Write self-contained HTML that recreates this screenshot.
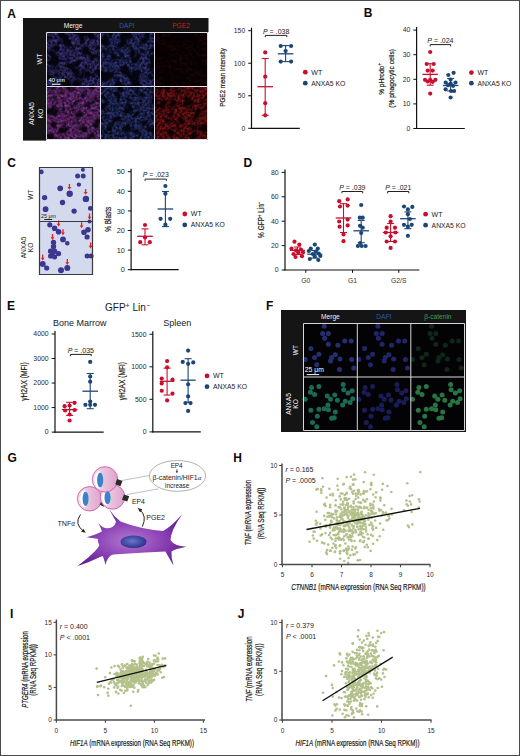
<!DOCTYPE html>
<html><head><meta charset="utf-8"><style>
html,body{margin:0;padding:0;background:#fff;}
body{width:520px;height:756px;overflow:hidden;font-family:"Liberation Sans", sans-serif;}
svg{display:block;}
</style></head><body>
<svg width="520" height="756" viewBox="0 0 520 756" font-family='"Liberation Sans", sans-serif'><defs><filter id="fA1" x="0" y="0" width="100%" height="100%" color-interpolation-filters="sRGB"><feTurbulence type="fractalNoise" baseFrequency="0.1" numOctaves="2" seed="5" result="c"/><feColorMatrix in="c" type="matrix" values="0 0 0 0 0 0 0 0 0 0 0 0 0 0 0 6.000 0 0 0 -2.220" result="m"/><feTurbulence type="fractalNoise" baseFrequency="0.4" numOctaves="2" seed="21" result="f"/><feColorMatrix in="f" type="matrix" values="0.409 0.000 0.000 0.000 -0.068 0.353 0.000 0.000 0.000 -0.059 0.875 0.000 0.000 0.000 -0.146 0 0 0 0 1" result="col"/><feComposite in="col" in2="m" operator="in"/></filter><filter id="fA2" x="0" y="0" width="100%" height="100%" color-interpolation-filters="sRGB"><feTurbulence type="fractalNoise" baseFrequency="0.1" numOctaves="2" seed="5" result="c"/><feColorMatrix in="c" type="matrix" values="0 0 0 0 0 0 0 0 0 0 0 0 0 0 0 6.000 0 0 0 -2.220" result="m"/><feTurbulence type="fractalNoise" baseFrequency="0.4" numOctaves="2" seed="21" result="f"/><feColorMatrix in="f" type="matrix" values="0.325 0.000 0.000 0.000 -0.054 0.367 0.000 0.000 0.000 -0.061 0.875 0.000 0.000 0.000 -0.146 0 0 0 0 1" result="col"/><feComposite in="col" in2="m" operator="in"/></filter><filter id="fA3" x="0" y="0" width="100%" height="100%" color-interpolation-filters="sRGB"><feTurbulence type="fractalNoise" baseFrequency="0.07" numOctaves="3" seed="9" result="c"/><feColorMatrix in="c" type="matrix" values="0 0 0 0 0 0 0 0 0 0 0 0 0 0 0 4.000 0 0 0 -1.200" result="m"/><feTurbulence type="fractalNoise" baseFrequency="0.35" numOctaves="2" seed="23" result="f"/><feColorMatrix in="f" type="matrix" values="0.242 0.000 0.000 0.000 -0.069 0.033 0.000 0.000 0.000 -0.009 0.055 0.000 0.000 0.000 -0.016 0 0 0 0 1" result="col"/><feComposite in="col" in2="m" operator="in"/></filter><filter id="fA4" x="0" y="0" width="100%" height="100%" color-interpolation-filters="sRGB"><feTurbulence type="fractalNoise" baseFrequency="0.12" numOctaves="2" seed="7" result="c"/><feColorMatrix in="c" type="matrix" values="0 0 0 0 0 0 0 0 0 0 0 0 0 0 0 5.000 0 0 0 -1.500" result="m"/><feTurbulence type="fractalNoise" baseFrequency="0.4" numOctaves="2" seed="24" result="f"/><feColorMatrix in="f" type="matrix" values="0.649 0.254 0.000 0.000 -0.151 0.099 0.268 0.000 0.000 -0.061 0.240 0.776 0.000 0.000 -0.169 0 0 0 0 1" result="col"/><feComposite in="col" in2="m" operator="in"/></filter><filter id="fA5" x="0" y="0" width="100%" height="100%" color-interpolation-filters="sRGB"><feTurbulence type="fractalNoise" baseFrequency="0.12" numOctaves="2" seed="7" result="c"/><feColorMatrix in="c" type="matrix" values="0 0 0 0 0 0 0 0 0 0 0 0 0 0 0 5.000 0 0 0 -1.500" result="m"/><feTurbulence type="fractalNoise" baseFrequency="0.4" numOctaves="2" seed="24" result="f"/><feColorMatrix in="f" type="matrix" values="0.296 0.000 0.000 0.000 -0.049 0.367 0.000 0.000 0.000 -0.061 0.819 0.000 0.000 0.000 -0.136 0 0 0 0 1" result="col"/><feComposite in="col" in2="m" operator="in"/></filter><filter id="fA6" x="0" y="0" width="100%" height="100%" color-interpolation-filters="sRGB"><feTurbulence type="fractalNoise" baseFrequency="0.12" numOctaves="2" seed="7" result="c"/><feColorMatrix in="c" type="matrix" values="0 0 0 0 0 0 0 0 0 0 0 0 0 0 0 5.000 0 0 0 -1.500" result="m"/><feTurbulence type="fractalNoise" baseFrequency="0.4" numOctaves="2" seed="26" result="f"/><feColorMatrix in="f" type="matrix" values="0.833 0.000 0.000 0.000 -0.139 0.127 0.000 0.000 0.000 -0.021 0.155 0.000 0.000 0.000 -0.026 0 0 0 0 1" result="col"/><feComposite in="col" in2="m" operator="in"/></filter><filter id="glow" x="-50%" y="-50%" width="200%" height="200%"><feGaussianBlur stdDeviation="0.55"/></filter><radialGradient id="gPurp" cx="0.48" cy="0.55" r="0.6"><stop offset="0" stop-color="#b27ad0"/><stop offset="0.45" stop-color="#9148b8"/><stop offset="1" stop-color="#5e1890"/></radialGradient><radialGradient id="gNuc" cx="0.45" cy="0.45" r="0.6"><stop offset="0" stop-color="#6878c8"/><stop offset="1" stop-color="#2a2a8c"/></radialGradient><linearGradient id="gPink" x1="0" y1="0" x2="1" y2="0"><stop offset="0" stop-color="#f6e6f1"/><stop offset="0.35" stop-color="#edc8e1"/><stop offset="1" stop-color="#dba4cb"/></linearGradient><marker id="ah" viewBox="0 0 6 6" refX="3" refY="3" markerWidth="4.5" markerHeight="4.5" orient="auto"><path d="M0,0.5 L6,3 L0,5.5 z" fill="#222"/></marker></defs><rect x="0.5" y="0.5" width="519" height="755" fill="none" stroke="#4a4a4a" stroke-width="1"/>
<text x="7.30" y="17.60" font-size="12" text-anchor="start" fill="#0a0a0a" font-weight="bold" >A</text>
<rect x="23" y="18" width="185.5" height="14" fill="#151515"/>
<rect x="23" y="18" width="23" height="122.6" fill="#151515"/>
<text x="73.00" y="27.60" font-size="6.6" text-anchor="middle" fill="#f2f2f2" >Merge</text>
<text x="127.00" y="27.60" font-size="6.6" text-anchor="middle" fill="#2a5aa8" >DAPI</text>
<text x="181.00" y="27.60" font-size="6.6" text-anchor="middle" fill="#d41a1e" >PGE2</text>
<rect x="46" y="32" width="54" height="54" fill="#05050f"/>
<rect x="46" y="32" width="54" height="54" filter="url(#fA1)"/>
<rect x="100" y="32" width="54" height="54" fill="#05050f"/>
<rect x="100" y="32" width="54" height="54" filter="url(#fA2)"/>
<rect x="154" y="32" width="54" height="54" fill="#060203"/>
<rect x="154" y="32" width="54" height="54" filter="url(#fA3)"/>
<rect x="46" y="86" width="54" height="54" fill="#0c0612"/>
<rect x="46" y="86" width="54" height="54" filter="url(#fA4)"/>
<rect x="100" y="86" width="54" height="54" fill="#05050f"/>
<rect x="100" y="86" width="54" height="54" filter="url(#fA5)"/>
<rect x="154" y="86" width="54" height="54" fill="#0c0304"/>
<rect x="154" y="86" width="54" height="54" filter="url(#fA6)"/>
<path d="M46.5,32.5 H207.5 V139.5 H46.5 Z M100.5,32.5 V139.5 M154.5,32.5 V139.5 M46.5,86.5 H207.5" fill="none" stroke="#dcdce4" stroke-width="1"/>
<text x="48.50" y="81.80" font-size="6.2" text-anchor="start" fill="#fff" textLength="16.3" lengthAdjust="spacingAndGlyphs" >40 μm</text>
<line x1="52.00" y1="84.20" x2="60.50" y2="84.20" stroke="#fff" stroke-width="1.1" />
<text x="41.50" y="59.00" font-size="7.0" text-anchor="middle" fill="#f2f2f2" transform="rotate(-90 41.50 59.00)" >WT</text>
<text x="33.60" y="113.50" font-size="7.0" text-anchor="middle" fill="#f2f2f2" transform="rotate(-90 33.60 113.50)" >ANXA5</text>
<text x="42.60" y="113.50" font-size="7.0" text-anchor="middle" fill="#f2f2f2" transform="rotate(-90 42.60 113.50)" >KO</text>
<line x1="251.50" y1="27.70" x2="251.50" y2="128.90" stroke="#111" stroke-width="1.2" />
<line x1="250.90" y1="128.30" x2="299.80" y2="128.30" stroke="#111" stroke-width="1.2" />
<line x1="248.20" y1="30.70" x2="251.50" y2="30.70" stroke="#111" stroke-width="1.0" />
<text x="245.20" y="33.20" font-size="6.8" text-anchor="end" fill="#2a2a2a" >150</text>
<line x1="248.20" y1="63.23" x2="251.50" y2="63.23" stroke="#111" stroke-width="1.0" />
<text x="245.20" y="65.73" font-size="6.8" text-anchor="end" fill="#2a2a2a" >100</text>
<line x1="248.20" y1="95.77" x2="251.50" y2="95.77" stroke="#111" stroke-width="1.0" />
<text x="245.20" y="98.27" font-size="6.8" text-anchor="end" fill="#2a2a2a" >50</text>
<line x1="248.20" y1="128.30" x2="251.50" y2="128.30" stroke="#111" stroke-width="1.0" />
<text x="245.20" y="130.80" font-size="6.8" text-anchor="end" fill="#2a2a2a" >0</text>
<text x="225.50" y="77.40" font-size="7.3" text-anchor="middle" fill="#1a1a1a" textLength="58.6" lengthAdjust="spacingAndGlyphs" transform="rotate(-90 225.50 77.40)" stroke="#1a1a1a" stroke-width="0.2">PGE2 mean intensity</text>
<line x1="265.20" y1="58.50" x2="265.20" y2="115.30" stroke="#c8102e" stroke-width="1.1" />
<line x1="261.70" y1="58.50" x2="268.70" y2="58.50" stroke="#c8102e" stroke-width="1.1" />
<line x1="261.70" y1="115.30" x2="268.70" y2="115.30" stroke="#c8102e" stroke-width="1.1" />
<circle cx="265.20" cy="52.40" r="2.1" fill="#c8102e" />
<circle cx="265.20" cy="76.70" r="2.1" fill="#c8102e" />
<circle cx="265.20" cy="103.20" r="2.1" fill="#c8102e" />
<circle cx="265.20" cy="115.30" r="2.1" fill="#c8102e" />
<line x1="257.40" y1="86.70" x2="273.00" y2="86.70" stroke="#c8102e" stroke-width="1.3" />
<line x1="285.60" y1="45.60" x2="285.60" y2="61.60" stroke="#1b4676" stroke-width="1.1" />
<line x1="282.10" y1="45.60" x2="289.10" y2="45.60" stroke="#1b4676" stroke-width="1.1" />
<line x1="282.10" y1="61.60" x2="289.10" y2="61.60" stroke="#1b4676" stroke-width="1.1" />
<circle cx="280.70" cy="46.00" r="2.1" fill="#1b4676" />
<circle cx="291.10" cy="46.00" r="2.1" fill="#1b4676" />
<circle cx="285.60" cy="51.00" r="2.1" fill="#1b4676" />
<circle cx="280.70" cy="61.60" r="2.1" fill="#1b4676" />
<circle cx="291.10" cy="61.60" r="2.1" fill="#1b4676" />
<line x1="277.80" y1="53.80" x2="293.40" y2="53.80" stroke="#1b4676" stroke-width="1.3" />
<path d="M265.30,37.20 V35.40 H286.80 V37.20" fill="none" stroke="#222" stroke-width="1"/>
<text x="276.20" y="33.80" font-size="6.5" text-anchor="middle" fill="#1a1a1a" textLength="26.5" lengthAdjust="spacingAndGlyphs"><tspan font-style="italic">P</tspan> = .038</text>
<circle cx="305.30" cy="72.20" r="2.4" fill="#c8102e" />
<text x="311.30" y="74.50" font-size="7.0" text-anchor="start" fill="#1a1a1a" >WT</text>
<circle cx="305.30" cy="83.20" r="2.4" fill="#1b4676" />
<text x="311.30" y="85.50" font-size="7.0" text-anchor="start" fill="#1a1a1a" textLength="34" lengthAdjust="spacingAndGlyphs" >ANXA5 KO</text>
<text x="363.80" y="16.90" font-size="12" text-anchor="start" fill="#0a0a0a" font-weight="bold" >B</text>
<line x1="416.60" y1="27.10" x2="416.60" y2="129.10" stroke="#111" stroke-width="1.2" />
<line x1="416.00" y1="128.50" x2="464.80" y2="128.50" stroke="#111" stroke-width="1.2" />
<line x1="413.30" y1="30.10" x2="416.60" y2="30.10" stroke="#111" stroke-width="1.0" />
<text x="410.30" y="32.40" font-size="6.9" text-anchor="end" fill="#2a2a2a" >40</text>
<line x1="413.30" y1="54.70" x2="416.60" y2="54.70" stroke="#111" stroke-width="1.0" />
<text x="410.30" y="57.00" font-size="6.9" text-anchor="end" fill="#2a2a2a" >30</text>
<line x1="413.30" y1="79.30" x2="416.60" y2="79.30" stroke="#111" stroke-width="1.0" />
<text x="410.30" y="81.60" font-size="6.9" text-anchor="end" fill="#2a2a2a" >20</text>
<line x1="413.30" y1="103.90" x2="416.60" y2="103.90" stroke="#111" stroke-width="1.0" />
<text x="410.30" y="106.20" font-size="6.9" text-anchor="end" fill="#2a2a2a" >10</text>
<line x1="413.30" y1="128.50" x2="416.60" y2="128.50" stroke="#111" stroke-width="1.0" />
<text x="410.30" y="130.80" font-size="6.9" text-anchor="end" fill="#2a2a2a" >0</text>
<text x="384" y="78.9" font-size="7.3" text-anchor="middle" fill="#1a1a1a" transform="rotate(-90 384 78.9)" stroke="#1a1a1a" stroke-width="0.2"><tspan textLength="29" lengthAdjust="spacingAndGlyphs">% pHrodo</tspan><tspan dy="-2.8" font-size="4.8">+</tspan></text>
<text x="393.70" y="78.30" font-size="7.3" text-anchor="middle" fill="#1a1a1a" textLength="58.7" lengthAdjust="spacingAndGlyphs" transform="rotate(-90 393.70 78.30)" stroke="#1a1a1a" stroke-width="0.2">(% phagocytic cells)</text>
<line x1="430.20" y1="63.70" x2="430.20" y2="85.20" stroke="#c8102e" stroke-width="1.1" />
<line x1="426.70" y1="63.70" x2="433.70" y2="63.70" stroke="#c8102e" stroke-width="1.1" />
<line x1="426.70" y1="85.20" x2="433.70" y2="85.20" stroke="#c8102e" stroke-width="1.1" />
<circle cx="430.20" cy="52.00" r="2.1" fill="#c8102e" />
<circle cx="426.70" cy="64.00" r="2.1" fill="#c8102e" />
<circle cx="433.70" cy="64.00" r="2.1" fill="#c8102e" />
<circle cx="427.70" cy="70.60" r="2.1" fill="#c8102e" />
<circle cx="432.70" cy="70.60" r="2.1" fill="#c8102e" />
<circle cx="425.00" cy="79.80" r="2.1" fill="#c8102e" />
<circle cx="430.20" cy="79.80" r="2.1" fill="#c8102e" />
<circle cx="435.40" cy="79.80" r="2.1" fill="#c8102e" />
<circle cx="427.70" cy="81.50" r="2.1" fill="#c8102e" />
<circle cx="432.70" cy="81.80" r="2.1" fill="#c8102e" />
<circle cx="430.20" cy="93.60" r="2.1" fill="#c8102e" />
<line x1="422.40" y1="74.40" x2="438.00" y2="74.40" stroke="#c8102e" stroke-width="1.3" />
<line x1="450.60" y1="78.50" x2="450.60" y2="91.00" stroke="#1b4676" stroke-width="1.1" />
<line x1="447.10" y1="78.50" x2="454.10" y2="78.50" stroke="#1b4676" stroke-width="1.1" />
<line x1="447.10" y1="91.00" x2="454.10" y2="91.00" stroke="#1b4676" stroke-width="1.1" />
<circle cx="453.60" cy="72.80" r="2.1" fill="#1b4676" />
<circle cx="448.30" cy="75.00" r="2.1" fill="#1b4676" />
<circle cx="450.60" cy="79.50" r="2.1" fill="#1b4676" />
<circle cx="445.70" cy="82.50" r="2.1" fill="#1b4676" />
<circle cx="450.60" cy="83.50" r="2.1" fill="#1b4676" />
<circle cx="455.50" cy="82.50" r="2.1" fill="#1b4676" />
<circle cx="448.10" cy="85.20" r="2.1" fill="#1b4676" />
<circle cx="453.10" cy="85.80" r="2.1" fill="#1b4676" />
<circle cx="445.60" cy="89.30" r="2.1" fill="#1b4676" />
<circle cx="451.10" cy="91.00" r="2.1" fill="#1b4676" />
<circle cx="454.10" cy="91.00" r="2.1" fill="#1b4676" />
<circle cx="450.60" cy="97.50" r="2.1" fill="#1b4676" />
<line x1="442.80" y1="85.50" x2="458.40" y2="85.50" stroke="#1b4676" stroke-width="1.3" />
<path d="M430.20,46.40 V44.60 H450.60 V46.40" fill="none" stroke="#222" stroke-width="1"/>
<text x="440.40" y="42.70" font-size="6.5" text-anchor="middle" fill="#1a1a1a" textLength="26.2" lengthAdjust="spacingAndGlyphs"><tspan font-style="italic">P</tspan> = .024</text>
<circle cx="471.40" cy="72.60" r="2.4" fill="#c8102e" />
<text x="477.40" y="74.90" font-size="7.0" text-anchor="start" fill="#1a1a1a" >WT</text>
<circle cx="471.40" cy="83.20" r="2.4" fill="#1b4676" />
<text x="477.40" y="85.50" font-size="7.0" text-anchor="start" fill="#1a1a1a" textLength="34" lengthAdjust="spacingAndGlyphs" >ANXA5 KO</text>
<text x="7.20" y="166.70" font-size="12" text-anchor="start" fill="#0a0a0a" font-weight="bold" >C</text>
<rect x="39" y="167" width="54" height="108" fill="#d3daee"/>
<path d="M39.10,171.90a2.3,2.3 0 1,0 4.60,0a2.3,2.3 0 1,0 -4.60,0zM75.10,175.90a2.5,2.5 0 1,0 5.00,0a2.5,2.5 0 1,0 -5.00,0zM80.70,175.90a2.5,2.5 0 1,0 5.00,0a2.5,2.5 0 1,0 -5.00,0zM80.90,169.80a2.0,2.0 0 1,0 4.00,0a2.0,2.0 0 1,0 -4.00,0zM76.70,184.60a2.2,2.2 0 1,0 4.40,0a2.2,2.2 0 1,0 -4.40,0zM57.30,188.30a2.9,2.9 0 1,0 5.80,0a2.9,2.9 0 1,0 -5.80,0zM66.50,193.70a3.2,3.2 0 1,0 6.40,0a3.2,3.2 0 1,0 -6.40,0zM82.70,198.90a3.2,3.2 0 1,0 6.40,0a3.2,3.2 0 1,0 -6.40,0zM41.90,197.60a2.7,2.7 0 1,0 5.40,0a2.7,2.7 0 1,0 -5.40,0zM59.80,202.50a2.7,2.7 0 1,0 5.40,0a2.7,2.7 0 1,0 -5.40,0zM42.70,209.20a2.9,2.9 0 1,0 5.80,0a2.9,2.9 0 1,0 -5.80,0zM71.40,211.10a2.7,2.7 0 1,0 5.40,0a2.7,2.7 0 1,0 -5.40,0zM87.90,208.40a2.4,2.4 0 1,0 4.80,0a2.4,2.4 0 1,0 -4.80,0zM47.20,224.80a2.6,2.6 0 1,0 5.20,0a2.6,2.6 0 1,0 -5.20,0zM51.80,228.30a2.8,2.8 0 1,0 5.60,0a2.8,2.8 0 1,0 -5.60,0zM55.80,231.70a2.8,2.8 0 1,0 5.60,0a2.8,2.8 0 1,0 -5.60,0zM60.10,239.40a2.9,2.9 0 1,0 5.80,0a2.9,2.9 0 1,0 -5.80,0zM65.00,243.30a2.3,2.3 0 1,0 4.60,0a2.3,2.3 0 1,0 -4.60,0zM50.80,242.50a2.7,2.7 0 1,0 5.40,0a2.7,2.7 0 1,0 -5.40,0zM50.80,246.50a2.7,2.7 0 1,0 5.40,0a2.7,2.7 0 1,0 -5.40,0zM47.90,251.30a2.7,2.7 0 1,0 5.40,0a2.7,2.7 0 1,0 -5.40,0zM51.90,251.30a2.7,2.7 0 1,0 5.40,0a2.7,2.7 0 1,0 -5.40,0zM50.60,253.80a2.0,2.0 0 1,0 4.00,0a2.0,2.0 0 1,0 -4.00,0zM56.00,253.70a2.6,2.6 0 1,0 5.20,0a2.6,2.6 0 1,0 -5.20,0zM48.00,256.00a2.6,2.6 0 1,0 5.20,0a2.6,2.6 0 1,0 -5.20,0zM52.00,256.80a2.6,2.6 0 1,0 5.20,0a2.6,2.6 0 1,0 -5.20,0zM39.70,264.00a3.0,3.0 0 1,0 6.00,0a3.0,3.0 0 1,0 -6.00,0zM44.10,268.00a2.6,2.6 0 1,0 5.20,0a2.6,2.6 0 1,0 -5.20,0zM58.00,270.30a3.0,3.0 0 1,0 6.00,0a3.0,3.0 0 1,0 -6.00,0zM64.30,268.00a3.0,3.0 0 1,0 6.00,0a3.0,3.0 0 1,0 -6.00,0zM81.20,232.20a2.8,2.8 0 1,0 5.60,0a2.8,2.8 0 1,0 -5.60,0zM85.20,229.80a2.8,2.8 0 1,0 5.60,0a2.8,2.8 0 1,0 -5.60,0zM84.50,237.00a2.6,2.6 0 1,0 5.20,0a2.6,2.6 0 1,0 -5.20,0zM84.60,256.00a2.5,2.5 0 1,0 5.00,0a2.5,2.5 0 1,0 -5.00,0zM88.60,256.00a2.5,2.5 0 1,0 5.00,0a2.5,2.5 0 1,0 -5.00,0zM87.50,221.50a2.0,2.0 0 1,0 4.00,0a2.0,2.0 0 1,0 -4.00,0z" fill="#3c3890"/>
<path d="M69.4,189.8 l-1.9,-2.7 h1.25 v-3.2 h1.3 v3.2 h1.25 z" fill="#e41e2c"/>
<path d="M85.6,194.8 l-1.9,-2.7 h1.25 v-3.2 h1.3 v3.2 h1.25 z" fill="#e41e2c"/>
<path d="M58.6,226.5 l-1.9,-2.7 h1.25 v-3.2 h1.3 v3.2 h1.25 z" fill="#e41e2c"/>
<path d="M81.6,228.2 l-1.9,-2.7 h1.25 v-3.2 h1.3 v3.2 h1.25 z" fill="#e41e2c"/>
<path d="M63,235.2 l-1.9,-2.7 h1.25 v-3.2 h1.3 v3.2 h1.25 z" fill="#e41e2c"/>
<path d="M52.5,240 l-1.9,-2.7 h1.25 v-3.2 h1.3 v3.2 h1.25 z" fill="#e41e2c"/>
<path d="M42.7,260.5 l-1.9,-2.7 h1.25 v-3.2 h1.3 v3.2 h1.25 z" fill="#e41e2c"/>
<path d="M67.3,265 l-1.9,-2.7 h1.25 v-3.2 h1.3 v3.2 h1.25 z" fill="#e41e2c"/>
<path d="M90.6,248.5 l-1.9,-2.7 h1.25 v-3.2 h1.3 v3.2 h1.25 z" fill="#e41e2c"/>
<path d="M89.5,219.5 l-1.9,-2.7 h1.25 v-3.2 h1.3 v3.2 h1.25 z" fill="#e41e2c"/>
<path d="M39.5,167.5 H92.5 V274.5 H39.5 Z M39.5,221.5 H92.5" fill="none" stroke="#3a3a3a" stroke-width="1.2"/>
<text x="41.00" y="218.00" font-size="5.4" text-anchor="start" fill="#222" >25 μm</text>
<line x1="44.30" y1="219.50" x2="52.20" y2="219.50" stroke="#222" stroke-width="1" />
<text x="33.30" y="194.50" font-size="6.6" text-anchor="middle" fill="#1a1a1a" transform="rotate(-90 33.30 194.50)" >WT</text>
<text x="25.80" y="247.50" font-size="6.6" text-anchor="middle" fill="#1a1a1a" transform="rotate(-90 25.80 247.50)" >ANXA5</text>
<text x="33.30" y="247.50" font-size="6.6" text-anchor="middle" fill="#1a1a1a" transform="rotate(-90 33.30 247.50)" >KO</text>
<line x1="131.10" y1="168.70" x2="131.10" y2="270.30" stroke="#111" stroke-width="1.2" />
<line x1="130.50" y1="269.70" x2="178.70" y2="269.70" stroke="#111" stroke-width="1.2" />
<line x1="127.80" y1="171.70" x2="131.10" y2="171.70" stroke="#111" stroke-width="1.0" />
<text x="124.80" y="174.40" font-size="7.3" text-anchor="end" fill="#2a2a2a" >50</text>
<line x1="127.80" y1="191.30" x2="131.10" y2="191.30" stroke="#111" stroke-width="1.0" />
<text x="124.80" y="194.00" font-size="7.3" text-anchor="end" fill="#2a2a2a" >40</text>
<line x1="127.80" y1="210.90" x2="131.10" y2="210.90" stroke="#111" stroke-width="1.0" />
<text x="124.80" y="213.60" font-size="7.3" text-anchor="end" fill="#2a2a2a" >30</text>
<line x1="127.80" y1="230.50" x2="131.10" y2="230.50" stroke="#111" stroke-width="1.0" />
<text x="124.80" y="233.20" font-size="7.3" text-anchor="end" fill="#2a2a2a" >20</text>
<line x1="127.80" y1="250.10" x2="131.10" y2="250.10" stroke="#111" stroke-width="1.0" />
<text x="124.80" y="252.80" font-size="7.3" text-anchor="end" fill="#2a2a2a" >10</text>
<line x1="127.80" y1="269.70" x2="131.10" y2="269.70" stroke="#111" stroke-width="1.0" />
<text x="124.80" y="272.40" font-size="7.3" text-anchor="end" fill="#2a2a2a" >0</text>
<text x="110.60" y="219.30" font-size="8.6" text-anchor="middle" fill="#1a1a1a" textLength="24.9" lengthAdjust="spacingAndGlyphs" transform="rotate(-90 110.60 219.30)" stroke="#1a1a1a" stroke-width="0.2">% Blasts</text>
<line x1="145.00" y1="228.90" x2="145.00" y2="244.80" stroke="#c8102e" stroke-width="1.1" />
<line x1="141.50" y1="228.90" x2="148.50" y2="228.90" stroke="#c8102e" stroke-width="1.1" />
<line x1="141.50" y1="244.80" x2="148.50" y2="244.80" stroke="#c8102e" stroke-width="1.1" />
<circle cx="145.00" cy="225.00" r="2.1" fill="#c8102e" />
<circle cx="145.00" cy="237.50" r="2.1" fill="#c8102e" />
<circle cx="140.20" cy="242.20" r="2.1" fill="#c8102e" />
<circle cx="149.80" cy="242.20" r="2.1" fill="#c8102e" />
<line x1="137.20" y1="236.30" x2="152.80" y2="236.30" stroke="#c8102e" stroke-width="1.3" />
<line x1="165.40" y1="191.50" x2="165.40" y2="226.60" stroke="#1b4676" stroke-width="1.1" />
<line x1="161.90" y1="191.50" x2="168.90" y2="191.50" stroke="#1b4676" stroke-width="1.1" />
<line x1="161.90" y1="226.60" x2="168.90" y2="226.60" stroke="#1b4676" stroke-width="1.1" />
<circle cx="165.40" cy="186.00" r="2.1" fill="#1b4676" />
<circle cx="165.40" cy="193.70" r="2.1" fill="#1b4676" />
<circle cx="160.60" cy="218.80" r="2.1" fill="#1b4676" />
<circle cx="170.20" cy="218.80" r="2.1" fill="#1b4676" />
<circle cx="165.40" cy="224.70" r="2.1" fill="#1b4676" />
<line x1="157.60" y1="209.00" x2="173.20" y2="209.00" stroke="#1b4676" stroke-width="1.3" />
<path d="M145.10,180.90 V179.10 H166.40 V180.90" fill="none" stroke="#222" stroke-width="1"/>
<text x="155.80" y="177.10" font-size="6.5" text-anchor="middle" fill="#1a1a1a" textLength="26" lengthAdjust="spacingAndGlyphs"><tspan font-style="italic">P</tspan> = .023</text>
<circle cx="184.80" cy="214.00" r="2.4" fill="#c8102e" />
<text x="190.80" y="216.30" font-size="7.0" text-anchor="start" fill="#1a1a1a" >WT</text>
<circle cx="184.80" cy="224.90" r="2.4" fill="#1b4676" />
<text x="190.80" y="227.20" font-size="7.0" text-anchor="start" fill="#1a1a1a" textLength="34" lengthAdjust="spacingAndGlyphs" >ANXA5 KO</text>
<text x="243.60" y="166.70" font-size="12" text-anchor="start" fill="#0a0a0a" font-weight="bold" >D</text>
<line x1="285.00" y1="169.40" x2="285.00" y2="270.60" stroke="#111" stroke-width="1.2" />
<line x1="284.40" y1="270.00" x2="419.40" y2="270.00" stroke="#111" stroke-width="1.2" />
<line x1="281.70" y1="172.40" x2="285.00" y2="172.40" stroke="#111" stroke-width="1.0" />
<text x="278.70" y="174.70" font-size="6.9" text-anchor="end" fill="#2a2a2a" >80</text>
<line x1="281.70" y1="196.80" x2="285.00" y2="196.80" stroke="#111" stroke-width="1.0" />
<text x="278.70" y="199.10" font-size="6.9" text-anchor="end" fill="#2a2a2a" >60</text>
<line x1="281.70" y1="221.20" x2="285.00" y2="221.20" stroke="#111" stroke-width="1.0" />
<text x="278.70" y="223.50" font-size="6.9" text-anchor="end" fill="#2a2a2a" >40</text>
<line x1="281.70" y1="245.60" x2="285.00" y2="245.60" stroke="#111" stroke-width="1.0" />
<text x="278.70" y="247.90" font-size="6.9" text-anchor="end" fill="#2a2a2a" >20</text>
<line x1="281.70" y1="270.00" x2="285.00" y2="270.00" stroke="#111" stroke-width="1.0" />
<text x="278.70" y="272.30" font-size="6.9" text-anchor="end" fill="#2a2a2a" >0</text>
<line x1="305.80" y1="270.00" x2="305.80" y2="272.80" stroke="#111" stroke-width="1" />
<text x="305.80" y="283.20" font-size="6.8" text-anchor="middle" fill="#333" >G0</text>
<line x1="352.50" y1="270.00" x2="352.50" y2="272.80" stroke="#111" stroke-width="1" />
<text x="352.50" y="283.20" font-size="6.8" text-anchor="middle" fill="#333" >G1</text>
<line x1="398.80" y1="270.00" x2="398.80" y2="272.80" stroke="#111" stroke-width="1" />
<text x="398.80" y="283.20" font-size="6.8" text-anchor="middle" fill="#333" >G2/S</text>
<text x="264.5" y="219.9" font-size="8.5" text-anchor="middle" fill="#1a1a1a" transform="rotate(-90 264.5 219.9)" stroke="#1a1a1a" stroke-width="0.2" textLength="36" lengthAdjust="spacingAndGlyphs">% GFP<tspan dy="-3" font-size="5.2">+</tspan><tspan dy="3"> Lin</tspan><tspan dy="-3" font-size="5.2">−</tspan></text>
<line x1="297.50" y1="247.00" x2="297.50" y2="254.50" stroke="#c8102e" stroke-width="1.1" />
<line x1="294.00" y1="247.00" x2="301.00" y2="247.00" stroke="#c8102e" stroke-width="1.1" />
<line x1="294.00" y1="254.50" x2="301.00" y2="254.50" stroke="#c8102e" stroke-width="1.1" />
<circle cx="294.50" cy="241.70" r="2.1" fill="#c8102e" />
<circle cx="299.30" cy="244.60" r="2.1" fill="#c8102e" />
<circle cx="291.50" cy="248.50" r="2.1" fill="#c8102e" />
<circle cx="296.00" cy="250.40" r="2.1" fill="#c8102e" />
<circle cx="301.00" cy="249.50" r="2.1" fill="#c8102e" />
<circle cx="293.50" cy="254.00" r="2.1" fill="#c8102e" />
<circle cx="298.50" cy="253.00" r="2.1" fill="#c8102e" />
<circle cx="302.00" cy="256.20" r="2.1" fill="#c8102e" />
<circle cx="295.50" cy="257.00" r="2.1" fill="#c8102e" />
<circle cx="298.00" cy="251.50" r="2.1" fill="#c8102e" />
<circle cx="303.00" cy="252.50" r="2.1" fill="#c8102e" />
<line x1="290.00" y1="250.40" x2="305.00" y2="250.40" stroke="#c8102e" stroke-width="1.3" />
<line x1="314.80" y1="250.50" x2="314.80" y2="258.00" stroke="#1b4676" stroke-width="1.1" />
<line x1="311.30" y1="250.50" x2="318.30" y2="250.50" stroke="#1b4676" stroke-width="1.1" />
<line x1="311.30" y1="258.00" x2="318.30" y2="258.00" stroke="#1b4676" stroke-width="1.1" />
<circle cx="314.80" cy="244.60" r="2.1" fill="#1b4676" />
<circle cx="310.80" cy="248.50" r="2.1" fill="#1b4676" />
<circle cx="317.80" cy="248.50" r="2.1" fill="#1b4676" />
<circle cx="308.80" cy="251.00" r="2.1" fill="#1b4676" />
<circle cx="315.80" cy="251.50" r="2.1" fill="#1b4676" />
<circle cx="312.80" cy="254.00" r="2.1" fill="#1b4676" />
<circle cx="318.80" cy="253.50" r="2.1" fill="#1b4676" />
<circle cx="309.80" cy="259.00" r="2.1" fill="#1b4676" />
<circle cx="318.30" cy="260.00" r="2.1" fill="#1b4676" />
<circle cx="314.80" cy="256.50" r="2.1" fill="#1b4676" />
<circle cx="320.30" cy="256.00" r="2.1" fill="#1b4676" />
<line x1="307.30" y1="254.20" x2="322.30" y2="254.20" stroke="#1b4676" stroke-width="1.3" />
<line x1="343.50" y1="203.70" x2="343.50" y2="232.50" stroke="#c8102e" stroke-width="1.1" />
<line x1="340.00" y1="203.70" x2="347.00" y2="203.70" stroke="#c8102e" stroke-width="1.1" />
<line x1="340.00" y1="232.50" x2="347.00" y2="232.50" stroke="#c8102e" stroke-width="1.1" />
<circle cx="339.20" cy="201.20" r="2.1" fill="#c8102e" />
<circle cx="347.70" cy="199.40" r="2.1" fill="#c8102e" />
<circle cx="340.00" cy="206.50" r="2.1" fill="#c8102e" />
<circle cx="347.70" cy="205.60" r="2.1" fill="#c8102e" />
<circle cx="339.20" cy="221.50" r="2.1" fill="#c8102e" />
<circle cx="347.70" cy="219.60" r="2.1" fill="#c8102e" />
<circle cx="339.60" cy="226.70" r="2.1" fill="#c8102e" />
<circle cx="347.70" cy="225.40" r="2.1" fill="#c8102e" />
<circle cx="343.50" cy="234.40" r="2.1" fill="#c8102e" />
<circle cx="343.50" cy="241.20" r="2.1" fill="#c8102e" />
<line x1="335.70" y1="218.00" x2="351.30" y2="218.00" stroke="#c8102e" stroke-width="1.3" />
<line x1="361.20" y1="220.40" x2="361.20" y2="242.70" stroke="#1b4676" stroke-width="1.1" />
<line x1="357.70" y1="220.40" x2="364.70" y2="220.40" stroke="#1b4676" stroke-width="1.1" />
<line x1="357.70" y1="242.70" x2="364.70" y2="242.70" stroke="#1b4676" stroke-width="1.1" />
<circle cx="361.20" cy="205.00" r="2.1" fill="#1b4676" />
<circle cx="359.80" cy="217.70" r="2.1" fill="#1b4676" />
<circle cx="362.70" cy="217.70" r="2.1" fill="#1b4676" />
<circle cx="360.00" cy="225.80" r="2.1" fill="#1b4676" />
<circle cx="362.70" cy="227.70" r="2.1" fill="#1b4676" />
<circle cx="361.20" cy="233.00" r="2.1" fill="#1b4676" />
<circle cx="357.90" cy="246.00" r="2.1" fill="#1b4676" />
<circle cx="361.70" cy="246.00" r="2.1" fill="#1b4676" />
<circle cx="365.60" cy="246.00" r="2.1" fill="#1b4676" />
<circle cx="360.20" cy="243.00" r="2.1" fill="#1b4676" />
<line x1="353.40" y1="230.80" x2="369.00" y2="230.80" stroke="#1b4676" stroke-width="1.3" />
<path d="M341.90,193.30 V191.50 H362.70 V193.30" fill="none" stroke="#222" stroke-width="1"/>
<text x="352.30" y="189.60" font-size="6.5" text-anchor="middle" fill="#1a1a1a" textLength="26.2" lengthAdjust="spacingAndGlyphs"><tspan font-style="italic">P</tspan> = .039</text>
<line x1="390.60" y1="223.50" x2="390.60" y2="241.50" stroke="#c8102e" stroke-width="1.1" />
<line x1="387.10" y1="223.50" x2="394.10" y2="223.50" stroke="#c8102e" stroke-width="1.1" />
<line x1="387.10" y1="241.50" x2="394.10" y2="241.50" stroke="#c8102e" stroke-width="1.1" />
<circle cx="390.60" cy="216.20" r="2.1" fill="#c8102e" />
<circle cx="390.60" cy="221.50" r="2.1" fill="#c8102e" />
<circle cx="386.70" cy="227.70" r="2.1" fill="#c8102e" />
<circle cx="395.00" cy="227.70" r="2.1" fill="#c8102e" />
<circle cx="385.80" cy="232.50" r="2.1" fill="#c8102e" />
<circle cx="395.40" cy="232.50" r="2.1" fill="#c8102e" />
<circle cx="390.60" cy="236.30" r="2.1" fill="#c8102e" />
<circle cx="386.70" cy="241.50" r="2.1" fill="#c8102e" />
<circle cx="395.00" cy="241.50" r="2.1" fill="#c8102e" />
<circle cx="390.60" cy="247.90" r="2.1" fill="#c8102e" />
<line x1="382.80" y1="232.50" x2="398.40" y2="232.50" stroke="#c8102e" stroke-width="1.3" />
<line x1="407.90" y1="211.90" x2="407.90" y2="228.70" stroke="#1b4676" stroke-width="1.1" />
<line x1="404.40" y1="211.90" x2="411.40" y2="211.90" stroke="#1b4676" stroke-width="1.1" />
<line x1="404.40" y1="228.70" x2="411.40" y2="228.70" stroke="#1b4676" stroke-width="1.1" />
<circle cx="404.00" cy="206.50" r="2.1" fill="#1b4676" />
<circle cx="407.90" cy="209.40" r="2.1" fill="#1b4676" />
<circle cx="412.30" cy="206.90" r="2.1" fill="#1b4676" />
<circle cx="407.90" cy="214.20" r="2.1" fill="#1b4676" />
<circle cx="404.00" cy="224.80" r="2.1" fill="#1b4676" />
<circle cx="411.70" cy="224.80" r="2.1" fill="#1b4676" />
<circle cx="407.90" cy="226.70" r="2.1" fill="#1b4676" />
<circle cx="407.90" cy="235.80" r="2.1" fill="#1b4676" />
<circle cx="409.90" cy="219.00" r="2.1" fill="#1b4676" />
<line x1="400.10" y1="218.70" x2="415.70" y2="218.70" stroke="#1b4676" stroke-width="1.3" />
<path d="M387.70,193.30 V191.50 H408.80 V193.30" fill="none" stroke="#222" stroke-width="1"/>
<text x="398.25" y="189.60" font-size="6.5" text-anchor="middle" fill="#1a1a1a" textLength="26.2" lengthAdjust="spacingAndGlyphs"><tspan font-style="italic">P</tspan> = .021</text>
<circle cx="425.60" cy="214.20" r="2.4" fill="#c8102e" />
<text x="431.60" y="216.50" font-size="7.0" text-anchor="start" fill="#1a1a1a" >WT</text>
<circle cx="425.60" cy="225.20" r="2.4" fill="#1b4676" />
<text x="431.60" y="227.50" font-size="7.0" text-anchor="start" fill="#1a1a1a" textLength="34" lengthAdjust="spacingAndGlyphs" >ANXA5 KO</text>
<text x="6.90" y="309.80" font-size="12" text-anchor="start" fill="#0a0a0a" font-weight="bold" >E</text>
<text x="105" y="311.2" font-size="10" fill="#1a1a1a">GFP<tspan dy="-3.4" font-size="7.2">+</tspan><tspan dy="3.4"> Lin</tspan><tspan dy="-3.4" font-size="7.2" dx="0.3">−</tspan></text>
<text x="79.80" y="326.00" font-size="9.0" text-anchor="middle" fill="#1a1a1a" >Bone Marrow</text>
<text x="177.30" y="326.00" font-size="9.0" text-anchor="middle" fill="#1a1a1a" >Spleen</text>
<line x1="55.00" y1="330.98" x2="55.00" y2="432.70" stroke="#111" stroke-width="1.2" />
<line x1="54.40" y1="432.10" x2="103.70" y2="432.10" stroke="#111" stroke-width="1.2" />
<line x1="51.70" y1="333.98" x2="55.00" y2="333.98" stroke="#111" stroke-width="1.0" />
<text x="48.70" y="336.28" font-size="6.9" text-anchor="end" fill="#2a2a2a" >4000</text>
<line x1="51.70" y1="358.51" x2="55.00" y2="358.51" stroke="#111" stroke-width="1.0" />
<text x="48.70" y="360.81" font-size="6.9" text-anchor="end" fill="#2a2a2a" >3000</text>
<line x1="51.70" y1="383.04" x2="55.00" y2="383.04" stroke="#111" stroke-width="1.0" />
<text x="48.70" y="385.34" font-size="6.9" text-anchor="end" fill="#2a2a2a" >2000</text>
<line x1="51.70" y1="407.57" x2="55.00" y2="407.57" stroke="#111" stroke-width="1.0" />
<text x="48.70" y="409.87" font-size="6.9" text-anchor="end" fill="#2a2a2a" >1000</text>
<line x1="51.70" y1="432.10" x2="55.00" y2="432.10" stroke="#111" stroke-width="1.0" />
<text x="48.70" y="434.40" font-size="6.9" text-anchor="end" fill="#2a2a2a" >0</text>
<text x="26.60" y="381.60" font-size="8.4" text-anchor="middle" fill="#1a1a1a" textLength="38.5" lengthAdjust="spacingAndGlyphs" transform="rotate(-90 26.60 381.60)" stroke="#1a1a1a" stroke-width="0.2">γH2AX (MFI)</text>
<line x1="69.60" y1="402.30" x2="69.60" y2="415.40" stroke="#c8102e" stroke-width="1.1" />
<line x1="66.10" y1="402.30" x2="73.10" y2="402.30" stroke="#c8102e" stroke-width="1.1" />
<line x1="66.10" y1="415.40" x2="73.10" y2="415.40" stroke="#c8102e" stroke-width="1.1" />
<circle cx="64.60" cy="406.20" r="2.1" fill="#c8102e" />
<circle cx="69.60" cy="405.50" r="2.1" fill="#c8102e" />
<circle cx="74.60" cy="402.80" r="2.1" fill="#c8102e" />
<circle cx="65.10" cy="410.50" r="2.1" fill="#c8102e" />
<circle cx="74.60" cy="410.00" r="2.1" fill="#c8102e" />
<circle cx="69.60" cy="414.50" r="2.1" fill="#c8102e" />
<circle cx="69.60" cy="420.50" r="2.1" fill="#c8102e" />
<line x1="61.80" y1="409.60" x2="77.40" y2="409.60" stroke="#c8102e" stroke-width="1.3" />
<line x1="90.20" y1="373.50" x2="90.20" y2="408.70" stroke="#1b4676" stroke-width="1.1" />
<line x1="86.70" y1="373.50" x2="93.70" y2="373.50" stroke="#1b4676" stroke-width="1.1" />
<line x1="86.70" y1="408.70" x2="93.70" y2="408.70" stroke="#1b4676" stroke-width="1.1" />
<circle cx="90.20" cy="361.90" r="2.1" fill="#1b4676" />
<circle cx="90.20" cy="376.50" r="2.1" fill="#1b4676" />
<circle cx="90.20" cy="381.70" r="2.1" fill="#1b4676" />
<circle cx="90.20" cy="401.50" r="2.1" fill="#1b4676" />
<circle cx="85.40" cy="404.80" r="2.1" fill="#1b4676" />
<circle cx="90.20" cy="404.80" r="2.1" fill="#1b4676" />
<circle cx="95.00" cy="404.80" r="2.1" fill="#1b4676" />
<line x1="82.40" y1="391.20" x2="98.00" y2="391.20" stroke="#1b4676" stroke-width="1.3" />
<path d="M70.40,356.20 V354.40 H91.20 V356.20" fill="none" stroke="#222" stroke-width="1"/>
<text x="80.80" y="352.50" font-size="6.5" text-anchor="middle" fill="#1a1a1a" textLength="26.2" lengthAdjust="spacingAndGlyphs"><tspan font-style="italic">P</tspan> = .035</text>
<line x1="152.80" y1="331.25" x2="152.80" y2="432.50" stroke="#111" stroke-width="1.2" />
<line x1="152.20" y1="431.90" x2="200.80" y2="431.90" stroke="#111" stroke-width="1.2" />
<line x1="149.50" y1="334.25" x2="152.80" y2="334.25" stroke="#111" stroke-width="1.0" />
<text x="146.50" y="336.55" font-size="6.9" text-anchor="end" fill="#2a2a2a" >1500</text>
<line x1="149.50" y1="366.80" x2="152.80" y2="366.80" stroke="#111" stroke-width="1.0" />
<text x="146.50" y="369.10" font-size="6.9" text-anchor="end" fill="#2a2a2a" >1000</text>
<line x1="149.50" y1="399.35" x2="152.80" y2="399.35" stroke="#111" stroke-width="1.0" />
<text x="146.50" y="401.65" font-size="6.9" text-anchor="end" fill="#2a2a2a" >500</text>
<line x1="149.50" y1="431.90" x2="152.80" y2="431.90" stroke="#111" stroke-width="1.0" />
<text x="146.50" y="434.20" font-size="6.9" text-anchor="end" fill="#2a2a2a" >0</text>
<text x="124.80" y="381.10" font-size="8.4" text-anchor="middle" fill="#1a1a1a" textLength="38.2" lengthAdjust="spacingAndGlyphs" transform="rotate(-90 124.80 381.10)" stroke="#1a1a1a" stroke-width="0.2">γH2AX (MFI)</text>
<line x1="167.10" y1="368.12" x2="167.10" y2="395.05" stroke="#c8102e" stroke-width="1.1" />
<line x1="163.60" y1="368.12" x2="170.60" y2="368.12" stroke="#c8102e" stroke-width="1.1" />
<line x1="163.60" y1="395.05" x2="170.60" y2="395.05" stroke="#c8102e" stroke-width="1.1" />
<circle cx="167.12" cy="361.12" r="2.1" fill="#c8102e" />
<circle cx="167.12" cy="367.31" r="2.1" fill="#c8102e" />
<circle cx="161.73" cy="378.62" r="2.1" fill="#c8102e" />
<circle cx="172.50" cy="379.70" r="2.1" fill="#c8102e" />
<circle cx="161.73" cy="383.47" r="2.1" fill="#c8102e" />
<circle cx="161.73" cy="390.74" r="2.1" fill="#c8102e" />
<circle cx="172.50" cy="393.70" r="2.1" fill="#c8102e" />
<circle cx="167.12" cy="400.43" r="2.1" fill="#c8102e" />
<line x1="159.80" y1="381.30" x2="174.40" y2="381.30" stroke="#c8102e" stroke-width="1.3" />
<line x1="188.10" y1="358.70" x2="188.10" y2="402.30" stroke="#1b4676" stroke-width="1.1" />
<line x1="184.60" y1="358.70" x2="191.60" y2="358.70" stroke="#1b4676" stroke-width="1.1" />
<line x1="184.60" y1="402.30" x2="191.60" y2="402.30" stroke="#1b4676" stroke-width="1.1" />
<circle cx="188.10" cy="350.62" r="2.1" fill="#1b4676" />
<circle cx="182.74" cy="361.93" r="2.1" fill="#1b4676" />
<circle cx="188.12" cy="363.81" r="2.1" fill="#1b4676" />
<circle cx="193.24" cy="362.47" r="2.1" fill="#1b4676" />
<circle cx="188.12" cy="384.28" r="2.1" fill="#1b4676" />
<circle cx="188.12" cy="396.39" r="2.1" fill="#1b4676" />
<circle cx="185.43" cy="403.12" r="2.1" fill="#1b4676" />
<circle cx="190.54" cy="403.12" r="2.1" fill="#1b4676" />
<circle cx="188.10" cy="410.93" r="2.1" fill="#1b4676" />
<line x1="180.50" y1="380.20" x2="195.70" y2="380.20" stroke="#1b4676" stroke-width="1.3" />
<circle cx="207.00" cy="375.90" r="2.4" fill="#c8102e" />
<text x="213.00" y="378.20" font-size="7.0" text-anchor="start" fill="#1a1a1a" >WT</text>
<circle cx="207.00" cy="386.70" r="2.4" fill="#1b4676" />
<text x="213.00" y="389.00" font-size="7.0" text-anchor="start" fill="#1a1a1a" textLength="34" lengthAdjust="spacingAndGlyphs" >ANXA5 KO</text>
<text x="266.00" y="310.00" font-size="12" text-anchor="start" fill="#0a0a0a" font-weight="bold" >F</text>
<rect x="281" y="310" width="185" height="122" fill="#151515"/>
<rect x="303.5" y="323" width="161.5" height="108" fill="#030306"/>
<text x="330.40" y="318.80" font-size="6.6" text-anchor="middle" fill="#f2f2f2" >Merge</text>
<text x="384.00" y="318.80" font-size="6.6" text-anchor="middle" fill="#2a5aa8" >DAPI</text>
<text x="437.90" y="318.80" font-size="6.6" text-anchor="middle" fill="#3aa060" >β-catenin</text>
<text x="298.30" y="350.00" font-size="6.6" text-anchor="middle" fill="#f2f2f2" transform="rotate(-90 298.30 350.00)" >WT</text>
<text x="290.50" y="404.00" font-size="6.6" text-anchor="middle" fill="#f2f2f2" transform="rotate(-90 290.50 404.00)" >ANXA5</text>
<text x="298.30" y="404.00" font-size="6.6" text-anchor="middle" fill="#f2f2f2" transform="rotate(-90 298.30 404.00)" >KO</text>
<g fill="#3a4cb0" opacity="0.62" filter="url(#glow)">
<circle cx="324.20" cy="326.20" r="2.5"/>
<circle cx="322.60" cy="333.60" r="2.5"/>
<circle cx="328.40" cy="333.60" r="2.5"/>
<circle cx="324.70" cy="338.30" r="2.5"/>
<circle cx="328.40" cy="344.20" r="2.5"/>
<circle cx="337.90" cy="345.20" r="2.5"/>
<circle cx="344.80" cy="341.00" r="2.5"/>
<circle cx="351.10" cy="341.00" r="2.5"/>
<circle cx="310.90" cy="348.40" r="2.5"/>
<circle cx="318.90" cy="354.20" r="2.5"/>
<circle cx="314.60" cy="357.40" r="2.5"/>
<circle cx="331.60" cy="357.40" r="2.5"/>
<circle cx="335.30" cy="354.70" r="2.5"/>
<circle cx="340.00" cy="359.00" r="2.5"/>
<circle cx="330.50" cy="361.10" r="2.5"/>
<circle cx="305.10" cy="359.50" r="2.5"/>
<circle cx="316.80" cy="364.80" r="2.5"/>
<circle cx="351.70" cy="359.50" r="2.5"/>
<circle cx="339.50" cy="369.60" r="2.5"/>
<circle cx="353.80" cy="368.00" r="2.5"/>
</g>
<g fill="#3440b0" opacity="0.58" filter="url(#glow)">
<circle cx="377.90" cy="326.20" r="2.5"/>
<circle cx="376.30" cy="333.60" r="2.5"/>
<circle cx="382.10" cy="333.60" r="2.5"/>
<circle cx="378.40" cy="338.30" r="2.5"/>
<circle cx="382.10" cy="344.20" r="2.5"/>
<circle cx="391.60" cy="345.20" r="2.5"/>
<circle cx="398.50" cy="341.00" r="2.5"/>
<circle cx="404.80" cy="341.00" r="2.5"/>
<circle cx="364.60" cy="348.40" r="2.5"/>
<circle cx="372.60" cy="354.20" r="2.5"/>
<circle cx="368.30" cy="357.40" r="2.5"/>
<circle cx="385.30" cy="357.40" r="2.5"/>
<circle cx="389.00" cy="354.70" r="2.5"/>
<circle cx="393.70" cy="359.00" r="2.5"/>
<circle cx="384.20" cy="361.10" r="2.5"/>
<circle cx="358.80" cy="359.50" r="2.5"/>
<circle cx="370.50" cy="364.80" r="2.5"/>
<circle cx="405.40" cy="359.50" r="2.5"/>
<circle cx="393.20" cy="369.60" r="2.5"/>
<circle cx="407.50" cy="368.00" r="2.5"/>
</g>
<g fill="#2a7040" opacity="0.32" filter="url(#glow)">
<circle cx="431.60" cy="326.20" r="2.5"/>
<circle cx="430.00" cy="333.60" r="2.5"/>
<circle cx="435.80" cy="333.60" r="2.5"/>
<circle cx="432.10" cy="338.30" r="2.5"/>
<circle cx="435.80" cy="344.20" r="2.5"/>
<circle cx="445.30" cy="345.20" r="2.5"/>
<circle cx="452.20" cy="341.00" r="2.5"/>
<circle cx="458.50" cy="341.00" r="2.5"/>
<circle cx="418.30" cy="348.40" r="2.5"/>
<circle cx="426.30" cy="354.20" r="2.5"/>
<circle cx="422.00" cy="357.40" r="2.5"/>
<circle cx="439.00" cy="357.40" r="2.5"/>
<circle cx="442.70" cy="354.70" r="2.5"/>
<circle cx="447.40" cy="359.00" r="2.5"/>
<circle cx="437.90" cy="361.10" r="2.5"/>
<circle cx="412.50" cy="359.50" r="2.5"/>
<circle cx="424.20" cy="364.80" r="2.5"/>
<circle cx="459.10" cy="359.50" r="2.5"/>
<circle cx="446.90" cy="369.60" r="2.5"/>
<circle cx="461.20" cy="368.00" r="2.5"/>
</g>
<g fill="#2aa080" opacity="0.65" filter="url(#glow)">
<circle cx="311.50" cy="387.60" r="2.5"/>
<circle cx="318.90" cy="386.50" r="2.5"/>
<circle cx="310.40" cy="392.30" r="2.5"/>
<circle cx="314.60" cy="394.50" r="2.5"/>
<circle cx="305.10" cy="399.20" r="2.5"/>
<circle cx="327.30" cy="396.00" r="2.5"/>
<circle cx="334.70" cy="395.00" r="2.5"/>
<circle cx="330.50" cy="399.20" r="2.5"/>
<circle cx="337.40" cy="400.30" r="2.5"/>
<circle cx="343.20" cy="384.40" r="2.5"/>
<circle cx="343.70" cy="389.70" r="2.5"/>
<circle cx="348.00" cy="392.90" r="2.5"/>
<circle cx="352.20" cy="390.80" r="2.5"/>
<circle cx="352.70" cy="398.70" r="2.5"/>
<circle cx="345.30" cy="401.30" r="2.5"/>
<circle cx="350.10" cy="402.40" r="2.5"/>
<circle cx="342.70" cy="405.00" r="2.5"/>
<circle cx="327.90" cy="405.00" r="2.5"/>
<circle cx="310.90" cy="410.30" r="2.5"/>
<circle cx="318.90" cy="409.30" r="2.5"/>
<circle cx="324.20" cy="408.70" r="2.5"/>
<circle cx="328.40" cy="409.80" r="2.5"/>
<circle cx="335.30" cy="411.90" r="2.5"/>
<circle cx="317.30" cy="416.20" r="2.5"/>
<circle cx="331.60" cy="418.30" r="2.5"/>
<circle cx="334.20" cy="417.70" r="2.5"/>
<circle cx="312.50" cy="422.50" r="2.5"/>
<circle cx="316.80" cy="426.70" r="2.5"/>
</g>
<g fill="#3034a8" opacity="0.5" filter="url(#glow)">
<circle cx="365.20" cy="387.60" r="2.5"/>
<circle cx="372.60" cy="386.50" r="2.5"/>
<circle cx="364.10" cy="392.30" r="2.5"/>
<circle cx="368.30" cy="394.50" r="2.5"/>
<circle cx="358.80" cy="399.20" r="2.5"/>
<circle cx="381.00" cy="396.00" r="2.5"/>
<circle cx="388.40" cy="395.00" r="2.5"/>
<circle cx="384.20" cy="399.20" r="2.5"/>
<circle cx="391.10" cy="400.30" r="2.5"/>
<circle cx="396.90" cy="384.40" r="2.5"/>
<circle cx="397.40" cy="389.70" r="2.5"/>
<circle cx="401.70" cy="392.90" r="2.5"/>
<circle cx="405.90" cy="390.80" r="2.5"/>
<circle cx="406.40" cy="398.70" r="2.5"/>
<circle cx="399.00" cy="401.30" r="2.5"/>
<circle cx="403.80" cy="402.40" r="2.5"/>
<circle cx="396.40" cy="405.00" r="2.5"/>
<circle cx="381.60" cy="405.00" r="2.5"/>
<circle cx="364.60" cy="410.30" r="2.5"/>
<circle cx="372.60" cy="409.30" r="2.5"/>
<circle cx="377.90" cy="408.70" r="2.5"/>
<circle cx="382.10" cy="409.80" r="2.5"/>
<circle cx="389.00" cy="411.90" r="2.5"/>
<circle cx="371.00" cy="416.20" r="2.5"/>
<circle cx="385.30" cy="418.30" r="2.5"/>
<circle cx="387.90" cy="417.70" r="2.5"/>
<circle cx="366.20" cy="422.50" r="2.5"/>
<circle cx="370.50" cy="426.70" r="2.5"/>
</g>
<g fill="#38ac5c" opacity="0.68" filter="url(#glow)">
<circle cx="418.90" cy="387.60" r="2.5"/>
<circle cx="426.30" cy="386.50" r="2.5"/>
<circle cx="417.80" cy="392.30" r="2.5"/>
<circle cx="422.00" cy="394.50" r="2.5"/>
<circle cx="412.50" cy="399.20" r="2.5"/>
<circle cx="434.70" cy="396.00" r="2.5"/>
<circle cx="442.10" cy="395.00" r="2.5"/>
<circle cx="437.90" cy="399.20" r="2.5"/>
<circle cx="444.80" cy="400.30" r="2.5"/>
<circle cx="450.60" cy="384.40" r="2.5"/>
<circle cx="451.10" cy="389.70" r="2.5"/>
<circle cx="455.40" cy="392.90" r="2.5"/>
<circle cx="459.60" cy="390.80" r="2.5"/>
<circle cx="460.10" cy="398.70" r="2.5"/>
<circle cx="452.70" cy="401.30" r="2.5"/>
<circle cx="457.50" cy="402.40" r="2.5"/>
<circle cx="450.10" cy="405.00" r="2.5"/>
<circle cx="435.30" cy="405.00" r="2.5"/>
<circle cx="418.30" cy="410.30" r="2.5"/>
<circle cx="426.30" cy="409.30" r="2.5"/>
<circle cx="431.60" cy="408.70" r="2.5"/>
<circle cx="435.80" cy="409.80" r="2.5"/>
<circle cx="442.70" cy="411.90" r="2.5"/>
<circle cx="424.70" cy="416.20" r="2.5"/>
<circle cx="439.00" cy="418.30" r="2.5"/>
<circle cx="441.60" cy="417.70" r="2.5"/>
<circle cx="419.90" cy="422.50" r="2.5"/>
<circle cx="424.20" cy="426.70" r="2.5"/>
</g>
<path d="M303.5,323.5 H464.5 V430.5 H303.5 Z M357.3,323.5 V430.5 M410.8,323.5 V430.5 M303.5,377 H464.5" fill="none" stroke="#d8d8d8" stroke-width="1"/>
<text x="304.80" y="372.40" font-size="7.0" text-anchor="start" fill="#fff" textLength="19" lengthAdjust="spacingAndGlyphs" >25 μm</text>
<line x1="306.70" y1="374.60" x2="319.20" y2="374.60" stroke="#fff" stroke-width="1" />
<text x="7.60" y="461.80" font-size="12" text-anchor="start" fill="#0a0a0a" font-weight="bold" >G</text>
<path d="M109.2,509.6 Q114,516.5 120.5,521.5 Q140,529 163,531 Q172,526 182.2,514.2 Q171,530 170.5,540 Q174,546 186.2,546.7 Q175,549 171.5,551.5 Q171,558 173.5,565.6 Q168,556 165.4,551.5 Q145,552.5 125,553.8 Q115,554 111.5,555 Q107,558 105.4,564.9 Q104,558 102.5,556 Q90,562 77.1,566.2 Q96,552 99.3,545.4 Q97,540 98.2,539 Q92,538 86.5,537.3 Q95,535 102,531.5 Q100.5,527 98.5,523 Q104,530.5 112,527.2 Q115.5,525 116,521.8 Q112.5,515 109.2,509.6 Z" fill="url(#gPurp)"/>
<ellipse cx="133.5" cy="541.8" rx="13" ry="6.3" fill="url(#gNuc)"/>
<line x1="120.50" y1="480.80" x2="149.00" y2="475.50" stroke="#b0b0b0" stroke-width="0.8" />
<line x1="127.00" y1="494.60" x2="158.50" y2="488.80" stroke="#b0b0b0" stroke-width="0.8" />
<ellipse cx="177.5" cy="475.9" rx="28.1" ry="15.4" fill="#fff" stroke="#a8a8a8" stroke-width="0.9"/>
<text x="176.60" y="468.10" font-size="6.9" text-anchor="middle" fill="#1a1a1a" textLength="11.9" lengthAdjust="spacingAndGlyphs" >EP4</text>
<line x1="176.90" y1="469.20" x2="176.90" y2="471.50" stroke="#222" stroke-width="0.8" />
<path d="M175.7,471.2 L176.9,473.2 L178.1,471.2 z" fill="#222"/>
<text x="176.90" y="480.00" font-size="6.9" text-anchor="middle" fill="#1a1a1a" textLength="48.75" lengthAdjust="spacingAndGlyphs" >β-catenin/HIF1<tspan font-family="Liberation Serif" font-style="italic">α</tspan></text>
<text x="177.20" y="487.80" font-size="7.0" text-anchor="middle" fill="#1a1a1a" textLength="24.4" lengthAdjust="spacingAndGlyphs" >increase</text>
<circle cx="89.6" cy="498.8" r="12.2" fill="url(#gPink)" stroke="#cc5ca2" stroke-width="0.9"/>
<ellipse cx="84.39999999999999" cy="498.8" rx="4.2" ry="8.5" fill="#ffffff"/>
<ellipse cx="85.6" cy="498.8" rx="3.0" ry="7.3" fill="#3d82c8"/>
<rect x="100.5" y="501.5" width="4.5" height="4.5" fill="#2a2a2a" transform="rotate(25 102.75 503.75)"/>
<circle cx="112.5" cy="496.9" r="12.3" fill="url(#gPink)" stroke="#cc5ca2" stroke-width="0.9"/>
<ellipse cx="106.39999999999999" cy="497.6" rx="4.3" ry="7.8" fill="#ffffff"/>
<ellipse cx="107.6" cy="497.6" rx="3.1" ry="6.6" fill="#3d82c8"/>
<rect x="122.8" y="495.2" width="5.6" height="5.6" fill="#2a2a2a" transform="rotate(20 125.6 498)"/>
<circle cx="105" cy="479.4" r="12.7" fill="url(#gPink)" stroke="#cc5ca2" stroke-width="0.9"/>
<ellipse cx="99.0" cy="480.0" rx="4.3" ry="8.7" fill="#ffffff"/>
<ellipse cx="100.2" cy="480.0" rx="3.1" ry="7.5" fill="#3d82c8"/>
<rect x="116" y="479.8" width="5.6" height="5.6" fill="#2a2a2a" transform="rotate(20 118.8 482.6)"/>
<text x="131.90" y="504.00" font-size="6.8" text-anchor="start" fill="#1a1a1a" textLength="12.9" lengthAdjust="spacingAndGlyphs" >EP4</text>
<text x="57.50" y="526.30" font-size="7.2" text-anchor="start" fill="#1a1a1a" textLength="17.5" lengthAdjust="spacingAndGlyphs" >TNF<tspan font-family="Liberation Serif" font-style="italic">α</tspan></text>
<text x="146.30" y="519.50" font-size="7.2" text-anchor="start" fill="#1a1a1a" textLength="18.7" lengthAdjust="spacingAndGlyphs" >PGE2</text>
<path d="M80.5,514.5 Q73.5,524 84,531.5" fill="none" stroke="#222" stroke-width="1" marker-end="url(#ah)"/>
<path d="M142.3,526.5 Q147.5,516 139.5,509.5" fill="none" stroke="#222" stroke-width="1" marker-end="url(#ah)"/>
<text x="233.30" y="461.80" font-size="12" text-anchor="start" fill="#0a0a0a" font-weight="bold" >H</text>
<g fill="#b3c08a">
<circle cx="348.8" cy="512.2" r="1.3"/>
<circle cx="364.3" cy="537.5" r="1.3"/>
<circle cx="359.8" cy="520.3" r="1.3"/>
<circle cx="359.6" cy="523.0" r="1.3"/>
<circle cx="372.8" cy="504.6" r="1.3"/>
<circle cx="331.1" cy="515.6" r="1.3"/>
<circle cx="339.6" cy="521.1" r="1.3"/>
<circle cx="329.4" cy="488.7" r="1.3"/>
<circle cx="347.3" cy="510.2" r="1.3"/>
<circle cx="363.6" cy="522.3" r="1.3"/>
<circle cx="348.6" cy="531.1" r="1.3"/>
<circle cx="356.2" cy="519.1" r="1.3"/>
<circle cx="320.7" cy="535.4" r="1.3"/>
<circle cx="351.0" cy="489.3" r="1.3"/>
<circle cx="335.5" cy="511.7" r="1.3"/>
<circle cx="375.1" cy="520.5" r="1.3"/>
<circle cx="362.0" cy="529.2" r="1.3"/>
<circle cx="362.9" cy="536.7" r="1.3"/>
<circle cx="348.0" cy="524.8" r="1.3"/>
<circle cx="357.9" cy="493.9" r="1.3"/>
<circle cx="358.6" cy="502.3" r="1.3"/>
<circle cx="343.8" cy="521.5" r="1.3"/>
<circle cx="341.5" cy="518.3" r="1.3"/>
<circle cx="347.2" cy="553.9" r="1.3"/>
<circle cx="339.9" cy="507.2" r="1.3"/>
<circle cx="340.1" cy="525.1" r="1.3"/>
<circle cx="344.7" cy="495.0" r="1.3"/>
<circle cx="338.1" cy="524.7" r="1.3"/>
<circle cx="360.2" cy="526.2" r="1.3"/>
<circle cx="325.3" cy="519.8" r="1.3"/>
<circle cx="361.0" cy="528.8" r="1.3"/>
<circle cx="339.6" cy="496.4" r="1.3"/>
<circle cx="340.8" cy="515.5" r="1.3"/>
<circle cx="329.0" cy="516.2" r="1.3"/>
<circle cx="346.7" cy="513.5" r="1.3"/>
<circle cx="345.2" cy="526.3" r="1.3"/>
<circle cx="351.7" cy="509.8" r="1.3"/>
<circle cx="341.0" cy="517.4" r="1.3"/>
<circle cx="350.3" cy="486.7" r="1.3"/>
<circle cx="375.7" cy="513.0" r="1.3"/>
<circle cx="354.9" cy="511.1" r="1.3"/>
<circle cx="340.4" cy="528.9" r="1.3"/>
<circle cx="362.9" cy="523.2" r="1.3"/>
<circle cx="347.0" cy="524.8" r="1.3"/>
<circle cx="357.6" cy="493.5" r="1.3"/>
<circle cx="357.9" cy="515.5" r="1.3"/>
<circle cx="343.1" cy="501.8" r="1.3"/>
<circle cx="320.4" cy="528.5" r="1.3"/>
<circle cx="343.7" cy="526.1" r="1.3"/>
<circle cx="357.0" cy="552.2" r="1.3"/>
<circle cx="343.3" cy="504.2" r="1.3"/>
<circle cx="355.3" cy="479.4" r="1.3"/>
<circle cx="363.3" cy="519.8" r="1.3"/>
<circle cx="340.8" cy="493.5" r="1.3"/>
<circle cx="367.0" cy="499.3" r="1.3"/>
<circle cx="372.8" cy="526.3" r="1.3"/>
<circle cx="364.8" cy="501.3" r="1.3"/>
<circle cx="366.1" cy="531.4" r="1.3"/>
<circle cx="365.1" cy="520.7" r="1.3"/>
<circle cx="382.1" cy="489.7" r="1.3"/>
<circle cx="351.6" cy="514.7" r="1.3"/>
<circle cx="348.9" cy="539.6" r="1.3"/>
<circle cx="357.8" cy="490.6" r="1.3"/>
<circle cx="335.5" cy="540.7" r="1.3"/>
<circle cx="326.0" cy="525.3" r="1.3"/>
<circle cx="335.9" cy="526.9" r="1.3"/>
<circle cx="354.4" cy="520.1" r="1.3"/>
<circle cx="355.9" cy="532.4" r="1.3"/>
<circle cx="326.2" cy="552.2" r="1.3"/>
<circle cx="321.1" cy="489.3" r="1.3"/>
<circle cx="344.2" cy="536.3" r="1.3"/>
<circle cx="346.1" cy="534.8" r="1.3"/>
<circle cx="348.1" cy="562.9" r="1.3"/>
<circle cx="358.8" cy="514.7" r="1.3"/>
<circle cx="367.0" cy="491.2" r="1.3"/>
<circle cx="352.3" cy="491.9" r="1.3"/>
<circle cx="332.7" cy="493.7" r="1.3"/>
<circle cx="331.5" cy="513.8" r="1.3"/>
<circle cx="352.4" cy="516.9" r="1.3"/>
<circle cx="358.7" cy="490.0" r="1.3"/>
<circle cx="359.6" cy="516.7" r="1.3"/>
<circle cx="357.6" cy="512.8" r="1.3"/>
<circle cx="360.4" cy="533.4" r="1.3"/>
<circle cx="360.8" cy="514.0" r="1.3"/>
<circle cx="323.0" cy="486.7" r="1.3"/>
<circle cx="338.0" cy="521.3" r="1.3"/>
<circle cx="355.6" cy="509.5" r="1.3"/>
<circle cx="357.7" cy="560.4" r="1.3"/>
<circle cx="326.6" cy="497.5" r="1.3"/>
<circle cx="366.2" cy="508.0" r="1.3"/>
<circle cx="342.4" cy="493.5" r="1.3"/>
<circle cx="345.4" cy="514.4" r="1.3"/>
<circle cx="352.9" cy="533.1" r="1.3"/>
<circle cx="359.9" cy="541.2" r="1.3"/>
<circle cx="327.7" cy="513.1" r="1.3"/>
<circle cx="363.5" cy="516.3" r="1.3"/>
<circle cx="350.0" cy="536.2" r="1.3"/>
<circle cx="337.5" cy="522.0" r="1.3"/>
<circle cx="344.8" cy="531.2" r="1.3"/>
<circle cx="316.6" cy="511.7" r="1.3"/>
<circle cx="339.3" cy="528.3" r="1.3"/>
<circle cx="351.6" cy="541.1" r="1.3"/>
<circle cx="338.4" cy="522.8" r="1.3"/>
<circle cx="344.0" cy="530.5" r="1.3"/>
<circle cx="346.7" cy="492.9" r="1.3"/>
<circle cx="349.6" cy="528.0" r="1.3"/>
<circle cx="363.9" cy="541.1" r="1.3"/>
<circle cx="348.5" cy="521.0" r="1.3"/>
<circle cx="345.0" cy="525.4" r="1.3"/>
<circle cx="356.8" cy="513.7" r="1.3"/>
<circle cx="379.5" cy="510.6" r="1.3"/>
<circle cx="343.8" cy="540.1" r="1.3"/>
<circle cx="356.4" cy="520.0" r="1.3"/>
<circle cx="325.6" cy="526.7" r="1.3"/>
<circle cx="368.7" cy="538.8" r="1.3"/>
<circle cx="358.6" cy="529.3" r="1.3"/>
<circle cx="368.5" cy="513.4" r="1.3"/>
<circle cx="348.0" cy="550.1" r="1.3"/>
<circle cx="333.5" cy="543.6" r="1.3"/>
<circle cx="361.9" cy="527.1" r="1.3"/>
<circle cx="360.0" cy="520.7" r="1.3"/>
<circle cx="336.1" cy="514.2" r="1.3"/>
<circle cx="327.1" cy="550.1" r="1.3"/>
<circle cx="355.5" cy="514.6" r="1.3"/>
<circle cx="346.3" cy="510.4" r="1.3"/>
<circle cx="387.4" cy="486.0" r="1.3"/>
<circle cx="339.8" cy="530.8" r="1.3"/>
<circle cx="341.1" cy="539.7" r="1.3"/>
<circle cx="347.2" cy="549.9" r="1.3"/>
<circle cx="324.3" cy="515.9" r="1.3"/>
<circle cx="335.8" cy="500.3" r="1.3"/>
<circle cx="373.1" cy="529.6" r="1.3"/>
<circle cx="346.9" cy="513.6" r="1.3"/>
<circle cx="339.9" cy="507.2" r="1.3"/>
<circle cx="330.1" cy="507.2" r="1.3"/>
<circle cx="357.4" cy="526.8" r="1.3"/>
<circle cx="358.6" cy="507.3" r="1.3"/>
<circle cx="352.7" cy="520.8" r="1.3"/>
<circle cx="343.1" cy="538.8" r="1.3"/>
<circle cx="353.4" cy="514.6" r="1.3"/>
<circle cx="354.5" cy="512.5" r="1.3"/>
<circle cx="338.8" cy="539.5" r="1.3"/>
<circle cx="358.1" cy="510.1" r="1.3"/>
<circle cx="317.7" cy="489.1" r="1.3"/>
<circle cx="329.9" cy="550.7" r="1.3"/>
<circle cx="344.4" cy="507.7" r="1.3"/>
<circle cx="347.3" cy="503.2" r="1.3"/>
<circle cx="331.7" cy="521.9" r="1.3"/>
<circle cx="353.7" cy="512.7" r="1.3"/>
<circle cx="364.4" cy="521.6" r="1.3"/>
<circle cx="355.5" cy="493.6" r="1.3"/>
<circle cx="352.2" cy="536.3" r="1.3"/>
<circle cx="361.1" cy="520.1" r="1.3"/>
<circle cx="354.8" cy="554.3" r="1.3"/>
<circle cx="332.0" cy="517.2" r="1.3"/>
<circle cx="345.9" cy="513.8" r="1.3"/>
<circle cx="367.9" cy="547.3" r="1.3"/>
<circle cx="332.1" cy="539.3" r="1.3"/>
<circle cx="349.8" cy="511.4" r="1.3"/>
<circle cx="343.1" cy="530.4" r="1.3"/>
<circle cx="335.6" cy="545.1" r="1.3"/>
<circle cx="350.4" cy="514.0" r="1.3"/>
<circle cx="353.5" cy="484.4" r="1.3"/>
<circle cx="353.4" cy="528.3" r="1.3"/>
<circle cx="327.5" cy="516.8" r="1.3"/>
<circle cx="344.6" cy="514.0" r="1.3"/>
<circle cx="354.0" cy="521.5" r="1.3"/>
<circle cx="362.8" cy="516.6" r="1.3"/>
<circle cx="358.8" cy="517.0" r="1.3"/>
<circle cx="361.1" cy="534.6" r="1.3"/>
<circle cx="365.1" cy="472.2" r="1.3"/>
<circle cx="336.9" cy="517.4" r="1.3"/>
<circle cx="349.7" cy="488.0" r="1.3"/>
<circle cx="338.4" cy="537.9" r="1.3"/>
<circle cx="313.7" cy="531.5" r="1.3"/>
<circle cx="324.1" cy="504.7" r="1.3"/>
<circle cx="379.7" cy="536.3" r="1.3"/>
<circle cx="332.4" cy="547.8" r="1.3"/>
<circle cx="315.8" cy="520.7" r="1.3"/>
<circle cx="340.2" cy="558.7" r="1.3"/>
<circle cx="371.3" cy="485.1" r="1.3"/>
<circle cx="348.2" cy="507.1" r="1.3"/>
<circle cx="354.9" cy="515.0" r="1.3"/>
<circle cx="344.9" cy="509.0" r="1.3"/>
<circle cx="347.6" cy="537.3" r="1.3"/>
<circle cx="367.6" cy="534.2" r="1.3"/>
<circle cx="360.6" cy="502.9" r="1.3"/>
<circle cx="347.6" cy="503.3" r="1.3"/>
<circle cx="362.0" cy="515.1" r="1.3"/>
<circle cx="364.7" cy="518.1" r="1.3"/>
<circle cx="345.6" cy="530.6" r="1.3"/>
<circle cx="352.9" cy="493.8" r="1.3"/>
<circle cx="352.6" cy="546.6" r="1.3"/>
<circle cx="339.0" cy="537.6" r="1.3"/>
<circle cx="365.9" cy="526.8" r="1.3"/>
<circle cx="346.4" cy="548.5" r="1.3"/>
<circle cx="339.7" cy="546.0" r="1.3"/>
<circle cx="324.2" cy="543.4" r="1.3"/>
<circle cx="330.2" cy="504.9" r="1.3"/>
<circle cx="371.4" cy="482.8" r="1.3"/>
<circle cx="332.1" cy="516.7" r="1.3"/>
<circle cx="355.2" cy="548.5" r="1.3"/>
<circle cx="343.5" cy="532.1" r="1.3"/>
<circle cx="356.4" cy="521.1" r="1.3"/>
<circle cx="357.8" cy="523.2" r="1.3"/>
<circle cx="337.4" cy="528.9" r="1.3"/>
<circle cx="344.6" cy="511.3" r="1.3"/>
<circle cx="350.3" cy="555.3" r="1.3"/>
<circle cx="350.6" cy="530.2" r="1.3"/>
<circle cx="348.5" cy="516.1" r="1.3"/>
<circle cx="344.3" cy="507.6" r="1.3"/>
<circle cx="358.2" cy="512.9" r="1.3"/>
<circle cx="368.3" cy="515.9" r="1.3"/>
<circle cx="356.8" cy="520.8" r="1.3"/>
<circle cx="338.0" cy="533.9" r="1.3"/>
<circle cx="354.7" cy="517.0" r="1.3"/>
<circle cx="349.8" cy="523.2" r="1.3"/>
<circle cx="355.7" cy="531.2" r="1.3"/>
<circle cx="376.1" cy="492.4" r="1.3"/>
<circle cx="345.7" cy="498.3" r="1.3"/>
<circle cx="348.7" cy="526.3" r="1.3"/>
<circle cx="335.8" cy="510.5" r="1.3"/>
<circle cx="344.6" cy="498.2" r="1.3"/>
<circle cx="340.5" cy="516.0" r="1.3"/>
<circle cx="372.5" cy="512.6" r="1.3"/>
<circle cx="353.4" cy="509.4" r="1.3"/>
<circle cx="340.4" cy="551.0" r="1.3"/>
<circle cx="377.3" cy="540.1" r="1.3"/>
<circle cx="329.3" cy="513.2" r="1.3"/>
<circle cx="361.6" cy="511.8" r="1.3"/>
<circle cx="363.9" cy="491.3" r="1.3"/>
<circle cx="357.3" cy="526.7" r="1.3"/>
<circle cx="345.0" cy="499.7" r="1.3"/>
<circle cx="347.0" cy="500.1" r="1.3"/>
<circle cx="343.8" cy="483.9" r="1.3"/>
<circle cx="360.5" cy="531.6" r="1.3"/>
<circle cx="314.5" cy="531.9" r="1.3"/>
<circle cx="341.3" cy="515.4" r="1.3"/>
<circle cx="351.1" cy="513.8" r="1.3"/>
<circle cx="340.3" cy="538.9" r="1.3"/>
<circle cx="322.1" cy="534.4" r="1.3"/>
<circle cx="345.3" cy="543.5" r="1.3"/>
<circle cx="337.7" cy="478.8" r="1.3"/>
<circle cx="360.7" cy="518.0" r="1.3"/>
<circle cx="369.5" cy="515.4" r="1.3"/>
<circle cx="349.9" cy="530.0" r="1.3"/>
<circle cx="320.3" cy="523.8" r="1.3"/>
<circle cx="346.0" cy="505.1" r="1.3"/>
<circle cx="335.2" cy="527.6" r="1.3"/>
<circle cx="358.9" cy="517.7" r="1.3"/>
<circle cx="373.8" cy="474.7" r="1.3"/>
<circle cx="353.6" cy="501.2" r="1.3"/>
<circle cx="378.9" cy="509.1" r="1.3"/>
<circle cx="371.2" cy="522.6" r="1.3"/>
<circle cx="359.1" cy="517.5" r="1.3"/>
<circle cx="336.2" cy="534.9" r="1.3"/>
<circle cx="352.0" cy="513.5" r="1.3"/>
<circle cx="329.1" cy="535.0" r="1.3"/>
<circle cx="365.9" cy="529.3" r="1.3"/>
<circle cx="352.4" cy="526.0" r="1.3"/>
<circle cx="371.0" cy="534.8" r="1.3"/>
<circle cx="355.1" cy="514.6" r="1.3"/>
<circle cx="322.3" cy="478.3" r="1.3"/>
<circle cx="360.5" cy="528.7" r="1.3"/>
<circle cx="364.7" cy="547.0" r="1.3"/>
<circle cx="375.6" cy="497.2" r="1.3"/>
<circle cx="336.7" cy="523.9" r="1.3"/>
<circle cx="337.4" cy="485.7" r="1.3"/>
<circle cx="352.0" cy="512.4" r="1.3"/>
<circle cx="335.5" cy="505.4" r="1.3"/>
<circle cx="330.7" cy="537.6" r="1.3"/>
<circle cx="334.8" cy="551.9" r="1.3"/>
<circle cx="389.1" cy="516.1" r="1.3"/>
<circle cx="341.5" cy="509.5" r="1.3"/>
<circle cx="335.7" cy="538.6" r="1.3"/>
<circle cx="344.0" cy="550.5" r="1.3"/>
<circle cx="350.5" cy="531.1" r="1.3"/>
<circle cx="369.5" cy="524.9" r="1.3"/>
<circle cx="364.4" cy="523.8" r="1.3"/>
<circle cx="362.0" cy="518.9" r="1.3"/>
<circle cx="351.0" cy="476.7" r="1.3"/>
<circle cx="352.7" cy="519.6" r="1.3"/>
<circle cx="341.0" cy="531.5" r="1.3"/>
<circle cx="328.2" cy="544.6" r="1.3"/>
<circle cx="380.4" cy="500.6" r="1.3"/>
<circle cx="343.6" cy="550.9" r="1.3"/>
<circle cx="365.3" cy="491.6" r="1.3"/>
<circle cx="345.7" cy="521.8" r="1.3"/>
<circle cx="349.0" cy="548.5" r="1.3"/>
<circle cx="348.0" cy="517.9" r="1.3"/>
<circle cx="330.0" cy="526.7" r="1.3"/>
<circle cx="349.1" cy="498.7" r="1.3"/>
<circle cx="355.9" cy="547.3" r="1.3"/>
<circle cx="362.5" cy="515.0" r="1.3"/>
<circle cx="357.5" cy="519.9" r="1.3"/>
<circle cx="365.3" cy="501.4" r="1.3"/>
<circle cx="354.6" cy="541.0" r="1.3"/>
<circle cx="350.1" cy="535.3" r="1.3"/>
<circle cx="321.2" cy="490.5" r="1.3"/>
<circle cx="342.3" cy="512.4" r="1.3"/>
<circle cx="373.1" cy="543.8" r="1.3"/>
<circle cx="351.9" cy="514.8" r="1.3"/>
<circle cx="361.9" cy="533.3" r="1.3"/>
<circle cx="347.0" cy="534.2" r="1.3"/>
<circle cx="340.2" cy="545.2" r="1.3"/>
<circle cx="380.3" cy="497.6" r="1.3"/>
<circle cx="355.4" cy="530.0" r="1.3"/>
<circle cx="372.2" cy="513.4" r="1.3"/>
<circle cx="357.9" cy="518.3" r="1.3"/>
<circle cx="345.8" cy="549.7" r="1.3"/>
<circle cx="317.0" cy="540.8" r="1.3"/>
<circle cx="351.4" cy="506.9" r="1.3"/>
<circle cx="327.0" cy="554.0" r="1.3"/>
<circle cx="317.3" cy="522.7" r="1.3"/>
<circle cx="368.4" cy="519.7" r="1.3"/>
<circle cx="360.7" cy="507.4" r="1.3"/>
<circle cx="359.6" cy="506.9" r="1.3"/>
<circle cx="350.8" cy="505.9" r="1.3"/>
<circle cx="349.5" cy="520.1" r="1.3"/>
<circle cx="356.3" cy="515.2" r="1.3"/>
<circle cx="352.4" cy="533.5" r="1.3"/>
<circle cx="351.1" cy="530.8" r="1.3"/>
<circle cx="361.0" cy="502.6" r="1.3"/>
<circle cx="313.8" cy="538.6" r="1.3"/>
<circle cx="363.2" cy="499.9" r="1.3"/>
<circle cx="340.7" cy="504.5" r="1.3"/>
<circle cx="362.6" cy="533.2" r="1.3"/>
<circle cx="367.3" cy="507.5" r="1.3"/>
<circle cx="337.5" cy="538.1" r="1.3"/>
<circle cx="361.6" cy="512.6" r="1.3"/>
<circle cx="361.3" cy="533.0" r="1.3"/>
<circle cx="339.2" cy="516.8" r="1.3"/>
<circle cx="341.7" cy="519.3" r="1.3"/>
<circle cx="351.0" cy="539.7" r="1.3"/>
<circle cx="316.4" cy="489.6" r="1.3"/>
<circle cx="342.6" cy="504.6" r="1.3"/>
<circle cx="351.9" cy="549.7" r="1.3"/>
<circle cx="342.5" cy="515.8" r="1.3"/>
<circle cx="325.5" cy="533.1" r="1.3"/>
<circle cx="343.3" cy="484.5" r="1.3"/>
<circle cx="371.4" cy="517.8" r="1.3"/>
<circle cx="368.6" cy="510.0" r="1.3"/>
<circle cx="347.2" cy="524.4" r="1.3"/>
<circle cx="337.1" cy="511.4" r="1.3"/>
<circle cx="348.7" cy="530.6" r="1.3"/>
<circle cx="349.2" cy="537.1" r="1.3"/>
<circle cx="339.0" cy="531.7" r="1.3"/>
<circle cx="344.0" cy="529.4" r="1.3"/>
<circle cx="358.2" cy="507.6" r="1.3"/>
<circle cx="362.7" cy="516.6" r="1.3"/>
<circle cx="312.9" cy="535.5" r="1.3"/>
<circle cx="363.4" cy="525.5" r="1.3"/>
<circle cx="350.9" cy="537.0" r="1.3"/>
<circle cx="365.9" cy="515.2" r="1.3"/>
<circle cx="348.6" cy="557.9" r="1.3"/>
<circle cx="355.4" cy="523.5" r="1.3"/>
<circle cx="373.1" cy="494.5" r="1.3"/>
<circle cx="372.4" cy="528.3" r="1.3"/>
<circle cx="351.7" cy="519.3" r="1.3"/>
<circle cx="322.0" cy="542.6" r="1.3"/>
<circle cx="309.6" cy="541.7" r="1.3"/>
<circle cx="353.5" cy="507.3" r="1.3"/>
<circle cx="333.7" cy="535.0" r="1.3"/>
<circle cx="363.7" cy="482.1" r="1.3"/>
<circle cx="352.1" cy="510.1" r="1.3"/>
<circle cx="346.9" cy="522.8" r="1.3"/>
<circle cx="363.6" cy="529.2" r="1.3"/>
<circle cx="351.8" cy="524.7" r="1.3"/>
<circle cx="359.9" cy="560.0" r="1.3"/>
<circle cx="361.2" cy="513.8" r="1.3"/>
<circle cx="353.7" cy="503.4" r="1.3"/>
<circle cx="360.6" cy="507.9" r="1.3"/>
<circle cx="360.5" cy="526.3" r="1.3"/>
<circle cx="328.7" cy="513.0" r="1.3"/>
<circle cx="344.9" cy="509.6" r="1.3"/>
<circle cx="347.1" cy="523.3" r="1.3"/>
<circle cx="343.3" cy="515.2" r="1.3"/>
<circle cx="325.5" cy="505.9" r="1.3"/>
<circle cx="340.5" cy="513.7" r="1.3"/>
<circle cx="353.9" cy="526.5" r="1.3"/>
<circle cx="351.7" cy="519.8" r="1.3"/>
<circle cx="371.4" cy="513.6" r="1.3"/>
<circle cx="339.9" cy="551.5" r="1.3"/>
<circle cx="342.5" cy="519.3" r="1.3"/>
<circle cx="340.4" cy="524.4" r="1.3"/>
<circle cx="344.2" cy="561.0" r="1.3"/>
<circle cx="340.0" cy="553.4" r="1.3"/>
<circle cx="321.3" cy="492.7" r="1.3"/>
<circle cx="354.0" cy="517.7" r="1.3"/>
<circle cx="363.5" cy="493.2" r="1.3"/>
<circle cx="365.4" cy="524.3" r="1.3"/>
<circle cx="332.9" cy="495.4" r="1.3"/>
<circle cx="346.0" cy="510.6" r="1.3"/>
<circle cx="376.2" cy="527.9" r="1.3"/>
<circle cx="347.3" cy="515.6" r="1.3"/>
<circle cx="354.0" cy="490.8" r="1.3"/>
<circle cx="346.6" cy="477.1" r="1.3"/>
<circle cx="363.7" cy="508.2" r="1.3"/>
<circle cx="363.2" cy="525.8" r="1.3"/>
<circle cx="383.2" cy="529.8" r="1.3"/>
<circle cx="356.3" cy="506.3" r="1.3"/>
<circle cx="355.5" cy="499.0" r="1.3"/>
<circle cx="331.0" cy="520.9" r="1.3"/>
<circle cx="342.8" cy="523.2" r="1.3"/>
<circle cx="338.5" cy="507.1" r="1.3"/>
<circle cx="344.0" cy="512.1" r="1.3"/>
<circle cx="329.5" cy="516.4" r="1.3"/>
<circle cx="366.8" cy="544.7" r="1.3"/>
<circle cx="333.3" cy="528.9" r="1.3"/>
<circle cx="352.9" cy="484.7" r="1.3"/>
<circle cx="330.3" cy="523.7" r="1.3"/>
<circle cx="354.0" cy="474.6" r="1.3"/>
<circle cx="373.3" cy="508.4" r="1.3"/>
<circle cx="336.8" cy="527.4" r="1.3"/>
<circle cx="354.3" cy="513.8" r="1.3"/>
<circle cx="347.9" cy="509.1" r="1.3"/>
<circle cx="353.1" cy="532.3" r="1.3"/>
<circle cx="355.1" cy="514.3" r="1.3"/>
<circle cx="339.5" cy="529.3" r="1.3"/>
<circle cx="346.2" cy="493.8" r="1.3"/>
<circle cx="340.2" cy="529.8" r="1.3"/>
<circle cx="336.7" cy="520.0" r="1.3"/>
<circle cx="330.8" cy="550.7" r="1.3"/>
<circle cx="363.1" cy="542.3" r="1.3"/>
<circle cx="338.0" cy="523.6" r="1.3"/>
<circle cx="358.7" cy="534.9" r="1.3"/>
<circle cx="357.1" cy="523.8" r="1.3"/>
<circle cx="334.1" cy="518.4" r="1.3"/>
<circle cx="364.3" cy="506.8" r="1.3"/>
<circle cx="336.2" cy="548.1" r="1.3"/>
<circle cx="358.2" cy="521.6" r="1.3"/>
<circle cx="370.4" cy="503.8" r="1.3"/>
<circle cx="338.3" cy="534.3" r="1.3"/>
<circle cx="335.2" cy="546.3" r="1.3"/>
<circle cx="335.0" cy="535.2" r="1.3"/>
<circle cx="382.8" cy="483.9" r="1.3"/>
<circle cx="343.3" cy="520.6" r="1.3"/>
<circle cx="330.2" cy="494.9" r="1.3"/>
<circle cx="360.9" cy="523.3" r="1.3"/>
<circle cx="346.2" cy="498.6" r="1.3"/>
<circle cx="348.3" cy="546.5" r="1.3"/>
<circle cx="334.1" cy="527.3" r="1.3"/>
<circle cx="316.0" cy="524.4" r="1.3"/>
<circle cx="338.0" cy="489.8" r="1.3"/>
<circle cx="333.3" cy="514.2" r="1.3"/>
<circle cx="324.9" cy="503.9" r="1.3"/>
<circle cx="332.7" cy="530.6" r="1.3"/>
<circle cx="334.7" cy="530.1" r="1.3"/>
<circle cx="360.6" cy="494.4" r="1.3"/>
<circle cx="359.1" cy="491.9" r="1.3"/>
<circle cx="356.3" cy="496.0" r="1.3"/>
<circle cx="340.8" cy="499.4" r="1.3"/>
<circle cx="330.1" cy="532.9" r="1.3"/>
<circle cx="353.1" cy="479.6" r="1.3"/>
<circle cx="355.5" cy="515.5" r="1.3"/>
<circle cx="363.5" cy="493.8" r="1.3"/>
<circle cx="348.3" cy="506.2" r="1.3"/>
<circle cx="346.8" cy="552.3" r="1.3"/>
<circle cx="353.3" cy="554.6" r="1.3"/>
<circle cx="335.0" cy="551.7" r="1.3"/>
<circle cx="336.8" cy="522.9" r="1.3"/>
<circle cx="358.2" cy="497.6" r="1.3"/>
<circle cx="330.1" cy="527.8" r="1.3"/>
<circle cx="347.5" cy="504.6" r="1.3"/>
<circle cx="360.3" cy="540.4" r="1.3"/>
<circle cx="352.2" cy="530.6" r="1.3"/>
<circle cx="371.0" cy="508.2" r="1.3"/>
<circle cx="388.5" cy="515.7" r="1.3"/>
<circle cx="391.5" cy="508.9" r="1.3"/>
<circle cx="368.5" cy="538.6" r="1.3"/>
<circle cx="411.1" cy="504.4" r="1.3"/>
<circle cx="409.9" cy="501.5" r="1.3"/>
<circle cx="392.0" cy="514.3" r="1.3"/>
<circle cx="382.8" cy="512.1" r="1.3"/>
<circle cx="372.7" cy="536.0" r="1.3"/>
<circle cx="419.7" cy="501.5" r="1.3"/>
<circle cx="373.9" cy="501.5" r="1.3"/>
<circle cx="370.6" cy="550.9" r="1.3"/>
<circle cx="386.5" cy="520.5" r="1.3"/>
<circle cx="418.7" cy="507.6" r="1.3"/>
<circle cx="370.3" cy="489.3" r="1.3"/>
<circle cx="371.7" cy="524.5" r="1.3"/>
<circle cx="383.5" cy="513.0" r="1.3"/>
<circle cx="391.3" cy="492.0" r="1.3"/>
<circle cx="408.0" cy="505.8" r="1.3"/>
<circle cx="381.6" cy="515.5" r="1.3"/>
<circle cx="389.3" cy="518.6" r="1.3"/>
<circle cx="411.6" cy="512.0" r="1.3"/>
<circle cx="380.1" cy="523.5" r="1.3"/>
<circle cx="380.4" cy="498.2" r="1.3"/>
<circle cx="412.3" cy="524.4" r="1.3"/>
<circle cx="406.7" cy="504.4" r="1.3"/>
<circle cx="418.9" cy="499.2" r="1.3"/>
<circle cx="412.1" cy="495.3" r="1.3"/>
<circle cx="404.1" cy="510.2" r="1.3"/>
<circle cx="371.9" cy="511.4" r="1.3"/>
<circle cx="373.4" cy="506.8" r="1.3"/>
<circle cx="381.0" cy="510.1" r="1.3"/>
<circle cx="409.6" cy="496.0" r="1.3"/>
<circle cx="386.0" cy="512.6" r="1.3"/>
<circle cx="370.9" cy="484.3" r="1.3"/>
<circle cx="420.3" cy="472.1" r="1.3"/>
<circle cx="388.1" cy="520.0" r="1.3"/>
<circle cx="370.5" cy="505.4" r="1.3"/>
<circle cx="409.0" cy="527.1" r="1.3"/>
<circle cx="406.4" cy="500.6" r="1.3"/>
<circle cx="384.3" cy="505.3" r="1.3"/>
<circle cx="374.2" cy="514.1" r="1.3"/>
<circle cx="407.9" cy="525.6" r="1.3"/>
<circle cx="371.3" cy="510.7" r="1.3"/>
<circle cx="407.3" cy="483.2" r="1.3"/>
</g>
<line x1="282.00" y1="463.50" x2="282.00" y2="565.30" stroke="#4a4a4a" stroke-width="1.5" />
<line x1="281.25" y1="564.50" x2="430.50" y2="564.50" stroke="#4a4a4a" stroke-width="1.5" />
<line x1="279.20" y1="465.50" x2="282.00" y2="465.50" stroke="#4a4a4a" stroke-width="1.1" />
<text x="277.40" y="467.80" font-size="6.5" text-anchor="end" fill="#2a2a2a" >10</text>
<line x1="279.20" y1="515.00" x2="282.00" y2="515.00" stroke="#4a4a4a" stroke-width="1.1" />
<text x="277.40" y="517.30" font-size="6.5" text-anchor="end" fill="#2a2a2a" >5</text>
<line x1="279.20" y1="564.50" x2="282.00" y2="564.50" stroke="#4a4a4a" stroke-width="1.1" />
<text x="277.40" y="566.80" font-size="6.5" text-anchor="end" fill="#2a2a2a" >0</text>
<line x1="282.50" y1="564.50" x2="282.50" y2="567.30" stroke="#4a4a4a" stroke-width="1.1" />
<text x="282.50" y="577.20" font-size="6.5" text-anchor="middle" fill="#2a2a2a" >5</text>
<line x1="312.00" y1="564.50" x2="312.00" y2="567.30" stroke="#4a4a4a" stroke-width="1.1" />
<text x="312.00" y="577.20" font-size="6.5" text-anchor="middle" fill="#2a2a2a" >6</text>
<line x1="341.50" y1="564.50" x2="341.50" y2="567.30" stroke="#4a4a4a" stroke-width="1.1" />
<text x="341.50" y="577.20" font-size="6.5" text-anchor="middle" fill="#2a2a2a" >7</text>
<line x1="371.00" y1="564.50" x2="371.00" y2="567.30" stroke="#4a4a4a" stroke-width="1.1" />
<text x="371.00" y="577.20" font-size="6.5" text-anchor="middle" fill="#2a2a2a" >8</text>
<line x1="400.50" y1="564.50" x2="400.50" y2="567.30" stroke="#4a4a4a" stroke-width="1.1" />
<text x="400.50" y="577.20" font-size="6.5" text-anchor="middle" fill="#2a2a2a" >9</text>
<line x1="430.00" y1="564.50" x2="430.00" y2="567.30" stroke="#4a4a4a" stroke-width="1.1" />
<text x="430.00" y="577.20" font-size="6.5" text-anchor="middle" fill="#2a2a2a" >10</text>
<line x1="306.50" y1="529.50" x2="420.00" y2="508.30" stroke="#111" stroke-width="1.3" />
<text x="285.5" y="471.8" font-size="7.0" fill="#1a1a1a"><tspan font-style="italic">r</tspan> = 0.165</text>
<text x="285.5" y="482.6" font-size="7.0" fill="#1a1a1a"><tspan font-style="italic">P</tspan> = .0005</text>
<text x="358.4" y="590" font-size="8.5" text-anchor="middle" fill="#1a1a1a" stroke="#1a1a1a" stroke-width="0.2" textLength="134.5" lengthAdjust="spacingAndGlyphs"><tspan font-style="italic">CTNNB1</tspan> (mRNA expression (RNA Seq RPKM))</text>
<text x="251.2" y="512.5" font-size="9" text-anchor="middle" fill="#222" stroke="#222" stroke-width="0.22" transform="rotate(-90 251.2 512.5)" textLength="65.4" lengthAdjust="spacingAndGlyphs"><tspan font-style="italic">TNF</tspan> (mRNA expression</text>
<text x="263.50" y="513.50" font-size="9" text-anchor="middle" fill="#222" textLength="51.6" lengthAdjust="spacingAndGlyphs" transform="rotate(-90 263.50 513.50)" stroke="#222" stroke-width="0.22">(RNA Seq RPKM))</text>
<text x="10.00" y="618.10" font-size="12" text-anchor="start" fill="#0a0a0a" font-weight="bold" >I</text>
<g fill="#b3c08a">
<circle cx="157.1" cy="673.6" r="1.3"/>
<circle cx="141.5" cy="662.8" r="1.3"/>
<circle cx="128.7" cy="670.3" r="1.3"/>
<circle cx="136.2" cy="675.8" r="1.3"/>
<circle cx="126.3" cy="686.4" r="1.3"/>
<circle cx="119.2" cy="682.1" r="1.3"/>
<circle cx="124.3" cy="673.7" r="1.3"/>
<circle cx="144.2" cy="685.5" r="1.3"/>
<circle cx="140.3" cy="657.5" r="1.3"/>
<circle cx="138.6" cy="674.6" r="1.3"/>
<circle cx="122.2" cy="678.4" r="1.3"/>
<circle cx="118.2" cy="674.8" r="1.3"/>
<circle cx="149.2" cy="680.9" r="1.3"/>
<circle cx="131.6" cy="675.3" r="1.3"/>
<circle cx="151.4" cy="671.1" r="1.3"/>
<circle cx="126.7" cy="672.3" r="1.3"/>
<circle cx="148.7" cy="678.3" r="1.3"/>
<circle cx="139.3" cy="669.8" r="1.3"/>
<circle cx="130.7" cy="668.2" r="1.3"/>
<circle cx="130.7" cy="674.0" r="1.3"/>
<circle cx="160.8" cy="672.3" r="1.3"/>
<circle cx="148.1" cy="677.3" r="1.3"/>
<circle cx="132.9" cy="687.0" r="1.3"/>
<circle cx="138.4" cy="677.9" r="1.3"/>
<circle cx="116.4" cy="676.1" r="1.3"/>
<circle cx="158.2" cy="659.6" r="1.3"/>
<circle cx="154.1" cy="663.6" r="1.3"/>
<circle cx="131.0" cy="668.1" r="1.3"/>
<circle cx="142.1" cy="676.3" r="1.3"/>
<circle cx="100.8" cy="685.9" r="1.3"/>
<circle cx="148.7" cy="681.7" r="1.3"/>
<circle cx="142.2" cy="677.6" r="1.3"/>
<circle cx="139.5" cy="681.2" r="1.3"/>
<circle cx="146.8" cy="673.7" r="1.3"/>
<circle cx="140.0" cy="669.3" r="1.3"/>
<circle cx="123.6" cy="678.4" r="1.3"/>
<circle cx="127.1" cy="679.0" r="1.3"/>
<circle cx="133.7" cy="670.8" r="1.3"/>
<circle cx="147.5" cy="662.1" r="1.3"/>
<circle cx="136.2" cy="667.6" r="1.3"/>
<circle cx="127.3" cy="687.8" r="1.3"/>
<circle cx="140.4" cy="662.2" r="1.3"/>
<circle cx="120.0" cy="681.4" r="1.3"/>
<circle cx="162.4" cy="677.8" r="1.3"/>
<circle cx="139.7" cy="676.1" r="1.3"/>
<circle cx="123.1" cy="671.2" r="1.3"/>
<circle cx="137.9" cy="691.6" r="1.3"/>
<circle cx="149.6" cy="662.9" r="1.3"/>
<circle cx="142.7" cy="671.6" r="1.3"/>
<circle cx="161.9" cy="664.8" r="1.3"/>
<circle cx="117.6" cy="688.0" r="1.3"/>
<circle cx="156.1" cy="673.5" r="1.3"/>
<circle cx="135.4" cy="682.2" r="1.3"/>
<circle cx="147.1" cy="664.3" r="1.3"/>
<circle cx="157.7" cy="674.5" r="1.3"/>
<circle cx="120.4" cy="675.9" r="1.3"/>
<circle cx="117.6" cy="683.3" r="1.3"/>
<circle cx="130.8" cy="686.8" r="1.3"/>
<circle cx="114.5" cy="674.0" r="1.3"/>
<circle cx="109.9" cy="673.1" r="1.3"/>
<circle cx="136.8" cy="664.6" r="1.3"/>
<circle cx="150.7" cy="674.8" r="1.3"/>
<circle cx="129.7" cy="675.9" r="1.3"/>
<circle cx="142.2" cy="668.6" r="1.3"/>
<circle cx="140.1" cy="672.3" r="1.3"/>
<circle cx="131.9" cy="660.4" r="1.3"/>
<circle cx="133.8" cy="677.9" r="1.3"/>
<circle cx="141.4" cy="667.6" r="1.3"/>
<circle cx="132.2" cy="679.0" r="1.3"/>
<circle cx="144.7" cy="663.3" r="1.3"/>
<circle cx="138.7" cy="675.7" r="1.3"/>
<circle cx="147.7" cy="678.3" r="1.3"/>
<circle cx="137.8" cy="669.3" r="1.3"/>
<circle cx="134.9" cy="674.6" r="1.3"/>
<circle cx="124.0" cy="680.0" r="1.3"/>
<circle cx="118.2" cy="680.4" r="1.3"/>
<circle cx="132.3" cy="679.6" r="1.3"/>
<circle cx="131.0" cy="672.5" r="1.3"/>
<circle cx="139.5" cy="671.6" r="1.3"/>
<circle cx="135.0" cy="664.0" r="1.3"/>
<circle cx="130.9" cy="680.3" r="1.3"/>
<circle cx="164.9" cy="658.4" r="1.3"/>
<circle cx="140.0" cy="670.0" r="1.3"/>
<circle cx="151.5" cy="680.1" r="1.3"/>
<circle cx="122.8" cy="668.0" r="1.3"/>
<circle cx="148.9" cy="683.1" r="1.3"/>
<circle cx="151.0" cy="667.7" r="1.3"/>
<circle cx="141.7" cy="685.4" r="1.3"/>
<circle cx="124.6" cy="675.5" r="1.3"/>
<circle cx="152.0" cy="673.2" r="1.3"/>
<circle cx="126.7" cy="678.6" r="1.3"/>
<circle cx="116.0" cy="691.9" r="1.3"/>
<circle cx="115.2" cy="684.5" r="1.3"/>
<circle cx="136.8" cy="666.6" r="1.3"/>
<circle cx="129.6" cy="671.9" r="1.3"/>
<circle cx="146.2" cy="672.4" r="1.3"/>
<circle cx="144.5" cy="673.2" r="1.3"/>
<circle cx="153.5" cy="674.5" r="1.3"/>
<circle cx="140.2" cy="663.9" r="1.3"/>
<circle cx="137.4" cy="674.2" r="1.3"/>
<circle cx="136.0" cy="667.2" r="1.3"/>
<circle cx="125.8" cy="686.4" r="1.3"/>
<circle cx="125.3" cy="687.0" r="1.3"/>
<circle cx="126.5" cy="667.6" r="1.3"/>
<circle cx="138.9" cy="679.3" r="1.3"/>
<circle cx="125.0" cy="678.1" r="1.3"/>
<circle cx="134.7" cy="671.3" r="1.3"/>
<circle cx="149.7" cy="664.8" r="1.3"/>
<circle cx="105.2" cy="677.3" r="1.3"/>
<circle cx="124.6" cy="673.2" r="1.3"/>
<circle cx="123.0" cy="666.5" r="1.3"/>
<circle cx="135.6" cy="672.5" r="1.3"/>
<circle cx="116.6" cy="672.8" r="1.3"/>
<circle cx="127.0" cy="675.9" r="1.3"/>
<circle cx="164.9" cy="666.1" r="1.3"/>
<circle cx="118.0" cy="665.9" r="1.3"/>
<circle cx="134.4" cy="676.1" r="1.3"/>
<circle cx="138.2" cy="690.1" r="1.3"/>
<circle cx="131.7" cy="674.6" r="1.3"/>
<circle cx="120.1" cy="676.6" r="1.3"/>
<circle cx="148.2" cy="659.1" r="1.3"/>
<circle cx="110.9" cy="682.5" r="1.3"/>
<circle cx="123.0" cy="684.8" r="1.3"/>
<circle cx="132.4" cy="674.1" r="1.3"/>
<circle cx="127.2" cy="664.1" r="1.3"/>
<circle cx="150.2" cy="673.0" r="1.3"/>
<circle cx="131.1" cy="667.0" r="1.3"/>
<circle cx="159.5" cy="665.2" r="1.3"/>
<circle cx="134.8" cy="670.2" r="1.3"/>
<circle cx="154.7" cy="675.2" r="1.3"/>
<circle cx="140.3" cy="672.7" r="1.3"/>
<circle cx="131.6" cy="680.6" r="1.3"/>
<circle cx="131.1" cy="675.4" r="1.3"/>
<circle cx="147.8" cy="676.1" r="1.3"/>
<circle cx="127.7" cy="669.1" r="1.3"/>
<circle cx="134.2" cy="678.3" r="1.3"/>
<circle cx="124.4" cy="678.7" r="1.3"/>
<circle cx="108.4" cy="695.7" r="1.3"/>
<circle cx="141.5" cy="679.7" r="1.3"/>
<circle cx="142.7" cy="656.9" r="1.3"/>
<circle cx="119.1" cy="681.2" r="1.3"/>
<circle cx="140.6" cy="684.1" r="1.3"/>
<circle cx="131.4" cy="675.8" r="1.3"/>
<circle cx="110.2" cy="682.4" r="1.3"/>
<circle cx="122.5" cy="681.2" r="1.3"/>
<circle cx="143.1" cy="674.9" r="1.3"/>
<circle cx="147.9" cy="675.0" r="1.3"/>
<circle cx="139.7" cy="667.7" r="1.3"/>
<circle cx="139.2" cy="672.5" r="1.3"/>
<circle cx="125.1" cy="671.8" r="1.3"/>
<circle cx="115.9" cy="685.4" r="1.3"/>
<circle cx="154.0" cy="655.5" r="1.3"/>
<circle cx="128.8" cy="676.1" r="1.3"/>
<circle cx="130.1" cy="676.8" r="1.3"/>
<circle cx="124.4" cy="681.1" r="1.3"/>
<circle cx="124.5" cy="672.3" r="1.3"/>
<circle cx="130.3" cy="686.6" r="1.3"/>
<circle cx="141.0" cy="669.7" r="1.3"/>
<circle cx="142.1" cy="658.7" r="1.3"/>
<circle cx="139.6" cy="671.5" r="1.3"/>
<circle cx="147.4" cy="666.4" r="1.3"/>
<circle cx="129.0" cy="682.3" r="1.3"/>
<circle cx="122.2" cy="672.7" r="1.3"/>
<circle cx="134.7" cy="679.9" r="1.3"/>
<circle cx="109.0" cy="683.8" r="1.3"/>
<circle cx="146.4" cy="671.9" r="1.3"/>
<circle cx="142.1" cy="660.4" r="1.3"/>
<circle cx="142.3" cy="676.7" r="1.3"/>
<circle cx="121.6" cy="690.6" r="1.3"/>
<circle cx="129.2" cy="675.1" r="1.3"/>
<circle cx="135.9" cy="669.3" r="1.3"/>
<circle cx="122.6" cy="673.2" r="1.3"/>
<circle cx="121.6" cy="676.2" r="1.3"/>
<circle cx="132.9" cy="666.0" r="1.3"/>
<circle cx="137.5" cy="668.0" r="1.3"/>
<circle cx="127.1" cy="670.8" r="1.3"/>
<circle cx="148.8" cy="673.9" r="1.3"/>
<circle cx="164.0" cy="677.0" r="1.3"/>
<circle cx="143.0" cy="661.8" r="1.3"/>
<circle cx="133.3" cy="680.5" r="1.3"/>
<circle cx="131.5" cy="666.7" r="1.3"/>
<circle cx="156.3" cy="661.5" r="1.3"/>
<circle cx="139.6" cy="680.9" r="1.3"/>
<circle cx="143.5" cy="676.5" r="1.3"/>
<circle cx="138.5" cy="670.7" r="1.3"/>
<circle cx="128.4" cy="669.5" r="1.3"/>
<circle cx="155.1" cy="675.7" r="1.3"/>
<circle cx="132.6" cy="676.7" r="1.3"/>
<circle cx="137.6" cy="680.4" r="1.3"/>
<circle cx="108.2" cy="688.7" r="1.3"/>
<circle cx="163.4" cy="666.9" r="1.3"/>
<circle cx="145.3" cy="675.0" r="1.3"/>
<circle cx="134.4" cy="687.8" r="1.3"/>
<circle cx="125.5" cy="673.9" r="1.3"/>
<circle cx="127.8" cy="678.6" r="1.3"/>
<circle cx="113.8" cy="682.0" r="1.3"/>
<circle cx="141.6" cy="681.5" r="1.3"/>
<circle cx="124.4" cy="672.2" r="1.3"/>
<circle cx="141.1" cy="670.9" r="1.3"/>
<circle cx="141.4" cy="670.9" r="1.3"/>
<circle cx="160.2" cy="668.8" r="1.3"/>
<circle cx="138.4" cy="671.2" r="1.3"/>
<circle cx="139.5" cy="662.9" r="1.3"/>
<circle cx="142.1" cy="671.5" r="1.3"/>
<circle cx="127.8" cy="674.6" r="1.3"/>
<circle cx="132.6" cy="677.9" r="1.3"/>
<circle cx="140.0" cy="668.9" r="1.3"/>
<circle cx="150.7" cy="672.2" r="1.3"/>
<circle cx="145.4" cy="676.7" r="1.3"/>
<circle cx="132.5" cy="667.5" r="1.3"/>
<circle cx="151.6" cy="671.5" r="1.3"/>
<circle cx="131.2" cy="681.0" r="1.3"/>
<circle cx="116.6" cy="683.4" r="1.3"/>
<circle cx="156.2" cy="672.8" r="1.3"/>
<circle cx="136.5" cy="681.1" r="1.3"/>
<circle cx="130.4" cy="666.0" r="1.3"/>
<circle cx="120.9" cy="673.9" r="1.3"/>
<circle cx="130.8" cy="684.3" r="1.3"/>
<circle cx="158.0" cy="661.2" r="1.3"/>
<circle cx="135.7" cy="676.6" r="1.3"/>
<circle cx="165.0" cy="665.5" r="1.3"/>
<circle cx="137.0" cy="676.4" r="1.3"/>
<circle cx="151.1" cy="667.8" r="1.3"/>
<circle cx="137.1" cy="671.4" r="1.3"/>
<circle cx="130.9" cy="670.4" r="1.3"/>
<circle cx="131.3" cy="669.9" r="1.3"/>
<circle cx="133.3" cy="691.7" r="1.3"/>
<circle cx="121.3" cy="681.1" r="1.3"/>
<circle cx="120.9" cy="678.2" r="1.3"/>
<circle cx="141.4" cy="674.5" r="1.3"/>
<circle cx="152.7" cy="680.0" r="1.3"/>
<circle cx="138.8" cy="676.4" r="1.3"/>
<circle cx="137.5" cy="675.5" r="1.3"/>
<circle cx="125.2" cy="690.7" r="1.3"/>
<circle cx="151.4" cy="676.8" r="1.3"/>
<circle cx="150.3" cy="666.6" r="1.3"/>
<circle cx="122.0" cy="683.1" r="1.3"/>
<circle cx="137.8" cy="675.6" r="1.3"/>
<circle cx="132.7" cy="675.7" r="1.3"/>
<circle cx="117.8" cy="676.0" r="1.3"/>
<circle cx="157.5" cy="665.0" r="1.3"/>
<circle cx="152.1" cy="664.1" r="1.3"/>
<circle cx="141.0" cy="672.8" r="1.3"/>
<circle cx="155.1" cy="668.9" r="1.3"/>
<circle cx="130.5" cy="677.0" r="1.3"/>
<circle cx="140.5" cy="672.3" r="1.3"/>
<circle cx="154.3" cy="671.1" r="1.3"/>
<circle cx="133.2" cy="670.4" r="1.3"/>
<circle cx="140.9" cy="668.8" r="1.3"/>
<circle cx="124.6" cy="686.3" r="1.3"/>
<circle cx="145.3" cy="687.2" r="1.3"/>
<circle cx="151.8" cy="668.0" r="1.3"/>
<circle cx="124.4" cy="680.8" r="1.3"/>
<circle cx="126.8" cy="687.0" r="1.3"/>
<circle cx="135.9" cy="668.4" r="1.3"/>
<circle cx="154.7" cy="660.3" r="1.3"/>
<circle cx="130.2" cy="683.5" r="1.3"/>
<circle cx="126.1" cy="683.2" r="1.3"/>
<circle cx="135.3" cy="679.3" r="1.3"/>
<circle cx="151.2" cy="676.3" r="1.3"/>
<circle cx="117.1" cy="680.0" r="1.3"/>
<circle cx="134.4" cy="682.5" r="1.3"/>
<circle cx="153.3" cy="670.7" r="1.3"/>
<circle cx="136.1" cy="677.4" r="1.3"/>
<circle cx="132.9" cy="668.7" r="1.3"/>
<circle cx="147.4" cy="672.7" r="1.3"/>
<circle cx="121.0" cy="672.6" r="1.3"/>
<circle cx="162.7" cy="658.6" r="1.3"/>
<circle cx="142.5" cy="669.8" r="1.3"/>
<circle cx="131.4" cy="671.6" r="1.3"/>
<circle cx="137.4" cy="677.6" r="1.3"/>
<circle cx="135.4" cy="674.9" r="1.3"/>
<circle cx="132.5" cy="660.7" r="1.3"/>
<circle cx="120.5" cy="669.5" r="1.3"/>
<circle cx="133.0" cy="675.3" r="1.3"/>
<circle cx="114.1" cy="682.6" r="1.3"/>
<circle cx="153.6" cy="671.6" r="1.3"/>
<circle cx="121.6" cy="671.1" r="1.3"/>
<circle cx="126.5" cy="690.5" r="1.3"/>
<circle cx="125.7" cy="675.6" r="1.3"/>
<circle cx="145.1" cy="681.3" r="1.3"/>
<circle cx="133.3" cy="666.1" r="1.3"/>
<circle cx="154.1" cy="679.9" r="1.3"/>
<circle cx="130.0" cy="670.3" r="1.3"/>
<circle cx="137.7" cy="676.3" r="1.3"/>
<circle cx="135.0" cy="675.0" r="1.3"/>
<circle cx="131.5" cy="665.1" r="1.3"/>
<circle cx="150.0" cy="671.5" r="1.3"/>
<circle cx="151.5" cy="666.6" r="1.3"/>
<circle cx="152.5" cy="668.3" r="1.3"/>
<circle cx="118.1" cy="686.6" r="1.3"/>
<circle cx="140.2" cy="674.0" r="1.3"/>
<circle cx="121.4" cy="671.8" r="1.3"/>
<circle cx="121.1" cy="676.0" r="1.3"/>
<circle cx="112.8" cy="679.0" r="1.3"/>
<circle cx="123.7" cy="682.4" r="1.3"/>
<circle cx="143.4" cy="662.8" r="1.3"/>
<circle cx="153.5" cy="674.2" r="1.3"/>
<circle cx="157.9" cy="657.7" r="1.3"/>
<circle cx="124.2" cy="676.3" r="1.3"/>
<circle cx="127.8" cy="672.0" r="1.3"/>
<circle cx="138.8" cy="683.3" r="1.3"/>
<circle cx="137.6" cy="673.5" r="1.3"/>
<circle cx="138.5" cy="680.3" r="1.3"/>
<circle cx="113.4" cy="679.5" r="1.3"/>
<circle cx="133.3" cy="667.3" r="1.3"/>
<circle cx="143.2" cy="670.6" r="1.3"/>
<circle cx="139.1" cy="672.2" r="1.3"/>
<circle cx="134.2" cy="668.6" r="1.3"/>
<circle cx="126.5" cy="684.7" r="1.3"/>
<circle cx="134.6" cy="674.2" r="1.3"/>
<circle cx="156.1" cy="673.7" r="1.3"/>
<circle cx="142.2" cy="665.8" r="1.3"/>
<circle cx="149.2" cy="676.0" r="1.3"/>
<circle cx="156.9" cy="658.8" r="1.3"/>
<circle cx="121.9" cy="664.4" r="1.3"/>
<circle cx="144.3" cy="686.3" r="1.3"/>
<circle cx="141.6" cy="674.1" r="1.3"/>
<circle cx="152.6" cy="680.9" r="1.3"/>
<circle cx="132.6" cy="667.1" r="1.3"/>
<circle cx="132.9" cy="680.8" r="1.3"/>
<circle cx="127.2" cy="672.3" r="1.3"/>
<circle cx="137.9" cy="671.8" r="1.3"/>
<circle cx="132.0" cy="681.4" r="1.3"/>
<circle cx="133.5" cy="684.9" r="1.3"/>
<circle cx="139.7" cy="666.1" r="1.3"/>
<circle cx="130.6" cy="679.6" r="1.3"/>
<circle cx="123.6" cy="675.5" r="1.3"/>
<circle cx="130.2" cy="666.3" r="1.3"/>
<circle cx="128.4" cy="676.3" r="1.3"/>
<circle cx="140.8" cy="675.2" r="1.3"/>
<circle cx="151.3" cy="677.4" r="1.3"/>
<circle cx="131.0" cy="672.5" r="1.3"/>
<circle cx="104.2" cy="687.3" r="1.3"/>
<circle cx="142.8" cy="683.8" r="1.3"/>
<circle cx="134.6" cy="678.5" r="1.3"/>
<circle cx="123.3" cy="681.5" r="1.3"/>
<circle cx="132.1" cy="686.0" r="1.3"/>
<circle cx="159.0" cy="670.5" r="1.3"/>
<circle cx="116.3" cy="673.7" r="1.3"/>
<circle cx="120.5" cy="674.3" r="1.3"/>
<circle cx="134.5" cy="661.4" r="1.3"/>
<circle cx="129.4" cy="674.2" r="1.3"/>
<circle cx="147.7" cy="684.9" r="1.3"/>
<circle cx="142.2" cy="671.4" r="1.3"/>
<circle cx="140.0" cy="665.3" r="1.3"/>
<circle cx="130.9" cy="677.3" r="1.3"/>
<circle cx="133.2" cy="665.5" r="1.3"/>
<circle cx="138.2" cy="672.0" r="1.3"/>
<circle cx="152.4" cy="664.8" r="1.3"/>
<circle cx="119.3" cy="667.0" r="1.3"/>
<circle cx="138.4" cy="674.0" r="1.3"/>
<circle cx="139.9" cy="660.3" r="1.3"/>
<circle cx="137.2" cy="676.3" r="1.3"/>
<circle cx="107.6" cy="692.9" r="1.3"/>
<circle cx="129.9" cy="676.4" r="1.3"/>
<circle cx="153.8" cy="660.8" r="1.3"/>
<circle cx="142.3" cy="675.0" r="1.3"/>
<circle cx="125.3" cy="665.9" r="1.3"/>
<circle cx="146.4" cy="673.1" r="1.3"/>
<circle cx="111.4" cy="667.5" r="1.3"/>
<circle cx="142.7" cy="687.3" r="1.3"/>
<circle cx="139.7" cy="658.1" r="1.3"/>
<circle cx="127.4" cy="689.9" r="1.3"/>
<circle cx="122.3" cy="678.0" r="1.3"/>
<circle cx="114.1" cy="687.5" r="1.3"/>
<circle cx="132.4" cy="673.0" r="1.3"/>
<circle cx="157.3" cy="670.6" r="1.3"/>
<circle cx="146.2" cy="673.8" r="1.3"/>
<circle cx="140.5" cy="669.0" r="1.3"/>
<circle cx="147.0" cy="665.2" r="1.3"/>
<circle cx="127.7" cy="678.5" r="1.3"/>
<circle cx="141.9" cy="664.6" r="1.3"/>
<circle cx="98.1" cy="695.0" r="1.3"/>
<circle cx="128.9" cy="683.1" r="1.3"/>
<circle cx="129.0" cy="685.1" r="1.3"/>
<circle cx="134.3" cy="671.5" r="1.3"/>
<circle cx="132.9" cy="668.9" r="1.3"/>
<circle cx="142.6" cy="675.6" r="1.3"/>
<circle cx="127.2" cy="680.8" r="1.3"/>
<circle cx="146.8" cy="679.8" r="1.3"/>
<circle cx="131.9" cy="670.8" r="1.3"/>
<circle cx="146.2" cy="664.3" r="1.3"/>
<circle cx="136.5" cy="678.0" r="1.3"/>
<circle cx="145.8" cy="673.2" r="1.3"/>
<circle cx="140.9" cy="675.9" r="1.3"/>
<circle cx="127.3" cy="676.6" r="1.3"/>
<circle cx="137.3" cy="671.0" r="1.3"/>
<circle cx="118.3" cy="693.5" r="1.3"/>
<circle cx="135.6" cy="678.1" r="1.3"/>
<circle cx="139.7" cy="668.0" r="1.3"/>
<circle cx="131.4" cy="681.6" r="1.3"/>
<circle cx="132.8" cy="666.6" r="1.3"/>
<circle cx="147.4" cy="662.1" r="1.3"/>
<circle cx="150.2" cy="677.3" r="1.3"/>
<circle cx="153.0" cy="675.6" r="1.3"/>
<circle cx="127.6" cy="667.5" r="1.3"/>
<circle cx="129.5" cy="686.9" r="1.3"/>
<circle cx="145.0" cy="679.3" r="1.3"/>
<circle cx="146.2" cy="682.8" r="1.3"/>
<circle cx="111.7" cy="680.0" r="1.3"/>
<circle cx="160.1" cy="666.2" r="1.3"/>
<circle cx="149.6" cy="667.8" r="1.3"/>
<circle cx="119.1" cy="676.5" r="1.3"/>
<circle cx="149.7" cy="680.5" r="1.3"/>
<circle cx="129.7" cy="667.9" r="1.3"/>
<circle cx="133.5" cy="675.3" r="1.3"/>
<circle cx="122.5" cy="680.2" r="1.3"/>
<circle cx="124.7" cy="665.5" r="1.3"/>
<circle cx="130.2" cy="674.9" r="1.3"/>
<circle cx="136.3" cy="671.9" r="1.3"/>
<circle cx="121.0" cy="672.3" r="1.3"/>
<circle cx="134.3" cy="661.2" r="1.3"/>
<circle cx="126.1" cy="676.8" r="1.3"/>
<circle cx="128.4" cy="671.5" r="1.3"/>
<circle cx="123.9" cy="693.0" r="1.3"/>
<circle cx="127.2" cy="683.1" r="1.3"/>
<circle cx="155.6" cy="655.8" r="1.3"/>
<circle cx="114.6" cy="666.1" r="1.3"/>
<circle cx="118.4" cy="679.6" r="1.3"/>
<circle cx="134.3" cy="680.8" r="1.3"/>
<circle cx="128.8" cy="685.3" r="1.3"/>
<circle cx="121.8" cy="685.9" r="1.3"/>
<circle cx="140.3" cy="677.3" r="1.3"/>
<circle cx="120.2" cy="689.8" r="1.3"/>
<circle cx="135.1" cy="675.4" r="1.3"/>
<circle cx="147.2" cy="672.9" r="1.3"/>
<circle cx="142.3" cy="681.3" r="1.3"/>
<circle cx="131.4" cy="684.3" r="1.3"/>
<circle cx="135.2" cy="682.5" r="1.3"/>
<circle cx="137.3" cy="677.4" r="1.3"/>
<circle cx="142.8" cy="674.3" r="1.3"/>
<circle cx="123.0" cy="673.7" r="1.3"/>
<circle cx="151.2" cy="682.6" r="1.3"/>
<circle cx="144.7" cy="674.7" r="1.3"/>
<circle cx="158.8" cy="668.8" r="1.3"/>
<circle cx="145.8" cy="669.9" r="1.3"/>
<circle cx="148.2" cy="665.8" r="1.3"/>
<circle cx="97.5" cy="686.4" r="1.3"/>
<circle cx="129.5" cy="667.7" r="1.3"/>
<circle cx="158.8" cy="653.5" r="1.3"/>
<circle cx="140.0" cy="670.5" r="1.3"/>
<circle cx="129.3" cy="665.5" r="1.3"/>
<circle cx="144.0" cy="665.9" r="1.3"/>
<circle cx="136.2" cy="671.2" r="1.3"/>
<circle cx="140.2" cy="674.7" r="1.3"/>
<circle cx="125.9" cy="675.0" r="1.3"/>
<circle cx="141.8" cy="659.1" r="1.3"/>
<circle cx="154.5" cy="669.3" r="1.3"/>
<circle cx="138.2" cy="678.9" r="1.3"/>
<circle cx="140.8" cy="676.4" r="1.3"/>
<circle cx="126.2" cy="671.3" r="1.3"/>
<circle cx="141.3" cy="677.2" r="1.3"/>
<circle cx="129.9" cy="669.5" r="1.3"/>
<circle cx="117.8" cy="673.6" r="1.3"/>
<circle cx="129.8" cy="674.1" r="1.3"/>
<circle cx="132.1" cy="663.9" r="1.3"/>
<circle cx="142.2" cy="681.4" r="1.3"/>
<circle cx="147.2" cy="675.1" r="1.3"/>
<circle cx="132.5" cy="676.1" r="1.3"/>
<circle cx="130.5" cy="672.8" r="1.3"/>
<circle cx="143.2" cy="681.5" r="1.3"/>
<circle cx="123.5" cy="681.0" r="1.3"/>
<circle cx="130.8" cy="666.7" r="1.3"/>
<circle cx="132.0" cy="677.8" r="1.3"/>
<circle cx="132.9" cy="668.8" r="1.3"/>
<circle cx="96.6" cy="668.6" r="1.3"/>
<circle cx="97.1" cy="686.8" r="1.3"/>
<circle cx="100.5" cy="686.1" r="1.3"/>
<circle cx="130.9" cy="705.7" r="1.3"/>
</g>
<line x1="56.40" y1="619.50" x2="56.40" y2="720.80" stroke="#4a4a4a" stroke-width="1.5" />
<line x1="55.65" y1="720.00" x2="205.00" y2="720.00" stroke="#4a4a4a" stroke-width="1.5" />
<line x1="53.60" y1="622.35" x2="56.40" y2="622.35" stroke="#4a4a4a" stroke-width="1.1" />
<text x="51.80" y="624.65" font-size="6.5" text-anchor="end" fill="#2a2a2a" >15</text>
<line x1="53.60" y1="654.90" x2="56.40" y2="654.90" stroke="#4a4a4a" stroke-width="1.1" />
<text x="51.80" y="657.20" font-size="6.5" text-anchor="end" fill="#2a2a2a" >10</text>
<line x1="53.60" y1="687.45" x2="56.40" y2="687.45" stroke="#4a4a4a" stroke-width="1.1" />
<text x="51.80" y="689.75" font-size="6.5" text-anchor="end" fill="#2a2a2a" >5</text>
<line x1="53.60" y1="720.00" x2="56.40" y2="720.00" stroke="#4a4a4a" stroke-width="1.1" />
<text x="51.80" y="722.30" font-size="6.5" text-anchor="end" fill="#2a2a2a" >0</text>
<line x1="56.40" y1="720.00" x2="56.40" y2="722.80" stroke="#4a4a4a" stroke-width="1.1" />
<text x="56.40" y="732.70" font-size="6.5" text-anchor="middle" fill="#2a2a2a" >0</text>
<line x1="105.40" y1="720.00" x2="105.40" y2="722.80" stroke="#4a4a4a" stroke-width="1.1" />
<text x="105.40" y="732.70" font-size="6.5" text-anchor="middle" fill="#2a2a2a" >5</text>
<line x1="154.40" y1="720.00" x2="154.40" y2="722.80" stroke="#4a4a4a" stroke-width="1.1" />
<text x="154.40" y="732.70" font-size="6.5" text-anchor="middle" fill="#2a2a2a" >10</text>
<line x1="203.40" y1="720.00" x2="203.40" y2="722.80" stroke="#4a4a4a" stroke-width="1.1" />
<text x="203.40" y="732.70" font-size="6.5" text-anchor="middle" fill="#2a2a2a" >15</text>
<line x1="96.80" y1="682.40" x2="166.30" y2="665.40" stroke="#111" stroke-width="1.3" />
<text x="59.8" y="628.8" font-size="7.0" fill="#1a1a1a"><tspan font-style="italic">r</tspan> = 0.400</text>
<text x="59.8" y="639.8" font-size="7.0" fill="#1a1a1a"><tspan font-style="italic">P</tspan> &lt; .0001</text>
<text x="132" y="745.8" font-size="8.5" text-anchor="middle" fill="#1a1a1a" stroke="#1a1a1a" stroke-width="0.2" textLength="124" lengthAdjust="spacingAndGlyphs"><tspan font-style="italic">HIF1A</tspan> (mRNA expression (RNA Seq RPKM))</text>
<text x="27.5" y="669.5" font-size="9" text-anchor="middle" fill="#222" stroke="#222" stroke-width="0.22" transform="rotate(-90 27.5 669.5)" textLength="76.6" lengthAdjust="spacingAndGlyphs"><tspan font-style="italic">PTGER4</tspan> (mRNA expression</text>
<text x="36.10" y="669.90" font-size="9" text-anchor="middle" fill="#222" textLength="51.6" lengthAdjust="spacingAndGlyphs" transform="rotate(-90 36.10 669.90)" stroke="#222" stroke-width="0.22">(RNA Seq RPKM))</text>
<text x="237.70" y="618.20" font-size="12" text-anchor="start" fill="#0a0a0a" font-weight="bold" >J</text>
<g fill="#b3c08a">
<circle cx="357.3" cy="700.7" r="1.3"/>
<circle cx="351.4" cy="692.2" r="1.3"/>
<circle cx="365.6" cy="694.0" r="1.3"/>
<circle cx="374.5" cy="651.6" r="1.3"/>
<circle cx="359.2" cy="667.6" r="1.3"/>
<circle cx="345.0" cy="717.3" r="1.3"/>
<circle cx="351.0" cy="693.8" r="1.3"/>
<circle cx="354.6" cy="690.2" r="1.3"/>
<circle cx="356.7" cy="653.1" r="1.3"/>
<circle cx="349.1" cy="695.2" r="1.3"/>
<circle cx="367.3" cy="654.5" r="1.3"/>
<circle cx="347.7" cy="655.7" r="1.3"/>
<circle cx="370.6" cy="683.4" r="1.3"/>
<circle cx="347.7" cy="674.9" r="1.3"/>
<circle cx="348.6" cy="681.9" r="1.3"/>
<circle cx="372.1" cy="650.3" r="1.3"/>
<circle cx="367.5" cy="694.2" r="1.3"/>
<circle cx="355.7" cy="685.0" r="1.3"/>
<circle cx="352.8" cy="710.2" r="1.3"/>
<circle cx="356.9" cy="664.4" r="1.3"/>
<circle cx="360.0" cy="710.4" r="1.3"/>
<circle cx="362.3" cy="672.2" r="1.3"/>
<circle cx="371.2" cy="695.1" r="1.3"/>
<circle cx="350.2" cy="695.7" r="1.3"/>
<circle cx="359.6" cy="690.2" r="1.3"/>
<circle cx="360.2" cy="673.7" r="1.3"/>
<circle cx="344.2" cy="676.9" r="1.3"/>
<circle cx="372.5" cy="645.1" r="1.3"/>
<circle cx="378.2" cy="636.8" r="1.3"/>
<circle cx="359.4" cy="674.8" r="1.3"/>
<circle cx="339.8" cy="709.6" r="1.3"/>
<circle cx="350.3" cy="659.9" r="1.3"/>
<circle cx="369.9" cy="689.9" r="1.3"/>
<circle cx="336.6" cy="692.0" r="1.3"/>
<circle cx="337.0" cy="704.3" r="1.3"/>
<circle cx="353.6" cy="690.6" r="1.3"/>
<circle cx="364.5" cy="668.0" r="1.3"/>
<circle cx="368.5" cy="688.9" r="1.3"/>
<circle cx="370.6" cy="668.7" r="1.3"/>
<circle cx="332.7" cy="696.6" r="1.3"/>
<circle cx="352.6" cy="661.2" r="1.3"/>
<circle cx="348.3" cy="663.0" r="1.3"/>
<circle cx="348.1" cy="669.4" r="1.3"/>
<circle cx="367.8" cy="667.9" r="1.3"/>
<circle cx="363.8" cy="640.6" r="1.3"/>
<circle cx="350.9" cy="663.6" r="1.3"/>
<circle cx="361.7" cy="696.0" r="1.3"/>
<circle cx="361.5" cy="667.8" r="1.3"/>
<circle cx="373.4" cy="656.2" r="1.3"/>
<circle cx="353.1" cy="694.6" r="1.3"/>
<circle cx="366.2" cy="665.3" r="1.3"/>
<circle cx="351.3" cy="686.7" r="1.3"/>
<circle cx="364.2" cy="687.5" r="1.3"/>
<circle cx="358.9" cy="674.1" r="1.3"/>
<circle cx="362.3" cy="684.0" r="1.3"/>
<circle cx="359.4" cy="697.0" r="1.3"/>
<circle cx="376.2" cy="662.2" r="1.3"/>
<circle cx="351.9" cy="713.9" r="1.3"/>
<circle cx="349.4" cy="661.7" r="1.3"/>
<circle cx="353.6" cy="685.4" r="1.3"/>
<circle cx="364.9" cy="669.2" r="1.3"/>
<circle cx="367.7" cy="651.3" r="1.3"/>
<circle cx="359.4" cy="657.9" r="1.3"/>
<circle cx="352.8" cy="685.1" r="1.3"/>
<circle cx="355.6" cy="671.7" r="1.3"/>
<circle cx="352.6" cy="662.4" r="1.3"/>
<circle cx="365.6" cy="644.8" r="1.3"/>
<circle cx="360.1" cy="688.7" r="1.3"/>
<circle cx="362.7" cy="667.0" r="1.3"/>
<circle cx="360.9" cy="693.4" r="1.3"/>
<circle cx="361.1" cy="689.9" r="1.3"/>
<circle cx="372.7" cy="666.7" r="1.3"/>
<circle cx="355.1" cy="682.2" r="1.3"/>
<circle cx="364.8" cy="691.0" r="1.3"/>
<circle cx="365.2" cy="687.4" r="1.3"/>
<circle cx="352.4" cy="682.0" r="1.3"/>
<circle cx="377.7" cy="688.0" r="1.3"/>
<circle cx="362.6" cy="670.4" r="1.3"/>
<circle cx="347.9" cy="705.7" r="1.3"/>
<circle cx="370.3" cy="642.2" r="1.3"/>
<circle cx="366.1" cy="667.7" r="1.3"/>
<circle cx="367.6" cy="656.3" r="1.3"/>
<circle cx="357.8" cy="683.6" r="1.3"/>
<circle cx="356.2" cy="658.2" r="1.3"/>
<circle cx="361.6" cy="664.9" r="1.3"/>
<circle cx="345.4" cy="672.6" r="1.3"/>
<circle cx="361.7" cy="672.1" r="1.3"/>
<circle cx="360.7" cy="663.5" r="1.3"/>
<circle cx="369.4" cy="670.2" r="1.3"/>
<circle cx="357.6" cy="666.0" r="1.3"/>
<circle cx="366.3" cy="676.1" r="1.3"/>
<circle cx="344.7" cy="692.3" r="1.3"/>
<circle cx="351.7" cy="678.6" r="1.3"/>
<circle cx="368.1" cy="667.4" r="1.3"/>
<circle cx="375.3" cy="664.9" r="1.3"/>
<circle cx="369.3" cy="682.4" r="1.3"/>
<circle cx="343.8" cy="692.0" r="1.3"/>
<circle cx="348.7" cy="666.5" r="1.3"/>
<circle cx="353.2" cy="677.9" r="1.3"/>
<circle cx="372.9" cy="659.6" r="1.3"/>
<circle cx="353.2" cy="689.5" r="1.3"/>
<circle cx="362.2" cy="648.4" r="1.3"/>
<circle cx="364.7" cy="675.5" r="1.3"/>
<circle cx="364.6" cy="661.8" r="1.3"/>
<circle cx="358.2" cy="676.9" r="1.3"/>
<circle cx="363.2" cy="651.1" r="1.3"/>
<circle cx="368.8" cy="697.2" r="1.3"/>
<circle cx="361.5" cy="711.5" r="1.3"/>
<circle cx="359.2" cy="682.2" r="1.3"/>
<circle cx="368.2" cy="714.8" r="1.3"/>
<circle cx="375.9" cy="678.2" r="1.3"/>
<circle cx="386.1" cy="669.6" r="1.3"/>
<circle cx="347.7" cy="689.7" r="1.3"/>
<circle cx="362.8" cy="661.9" r="1.3"/>
<circle cx="361.0" cy="699.7" r="1.3"/>
<circle cx="348.2" cy="675.1" r="1.3"/>
<circle cx="356.8" cy="655.5" r="1.3"/>
<circle cx="352.6" cy="651.9" r="1.3"/>
<circle cx="349.4" cy="703.7" r="1.3"/>
<circle cx="353.3" cy="687.0" r="1.3"/>
<circle cx="366.5" cy="635.9" r="1.3"/>
<circle cx="348.8" cy="701.8" r="1.3"/>
<circle cx="354.1" cy="659.0" r="1.3"/>
<circle cx="358.3" cy="669.7" r="1.3"/>
<circle cx="349.1" cy="673.0" r="1.3"/>
<circle cx="346.5" cy="715.3" r="1.3"/>
<circle cx="342.6" cy="713.7" r="1.3"/>
<circle cx="351.5" cy="697.4" r="1.3"/>
<circle cx="374.4" cy="653.2" r="1.3"/>
<circle cx="341.4" cy="674.2" r="1.3"/>
<circle cx="368.5" cy="683.3" r="1.3"/>
<circle cx="349.6" cy="677.4" r="1.3"/>
<circle cx="349.4" cy="680.4" r="1.3"/>
<circle cx="367.6" cy="687.0" r="1.3"/>
<circle cx="365.3" cy="691.3" r="1.3"/>
<circle cx="366.2" cy="706.2" r="1.3"/>
<circle cx="359.3" cy="697.0" r="1.3"/>
<circle cx="368.5" cy="684.5" r="1.3"/>
<circle cx="352.7" cy="659.2" r="1.3"/>
<circle cx="363.1" cy="658.7" r="1.3"/>
<circle cx="369.6" cy="672.7" r="1.3"/>
<circle cx="358.9" cy="671.4" r="1.3"/>
<circle cx="350.2" cy="699.0" r="1.3"/>
<circle cx="377.2" cy="706.4" r="1.3"/>
<circle cx="357.0" cy="674.3" r="1.3"/>
<circle cx="349.0" cy="674.5" r="1.3"/>
<circle cx="366.1" cy="686.5" r="1.3"/>
<circle cx="373.0" cy="645.4" r="1.3"/>
<circle cx="365.5" cy="653.7" r="1.3"/>
<circle cx="346.7" cy="671.9" r="1.3"/>
<circle cx="360.1" cy="711.0" r="1.3"/>
<circle cx="362.8" cy="674.0" r="1.3"/>
<circle cx="366.3" cy="660.8" r="1.3"/>
<circle cx="344.3" cy="704.2" r="1.3"/>
<circle cx="346.0" cy="696.6" r="1.3"/>
<circle cx="361.6" cy="660.1" r="1.3"/>
<circle cx="359.7" cy="639.6" r="1.3"/>
<circle cx="364.4" cy="658.6" r="1.3"/>
<circle cx="371.9" cy="663.3" r="1.3"/>
<circle cx="345.0" cy="696.7" r="1.3"/>
<circle cx="347.4" cy="705.4" r="1.3"/>
<circle cx="353.2" cy="696.8" r="1.3"/>
<circle cx="375.6" cy="657.9" r="1.3"/>
<circle cx="357.3" cy="687.2" r="1.3"/>
<circle cx="369.8" cy="644.5" r="1.3"/>
<circle cx="361.8" cy="695.6" r="1.3"/>
<circle cx="369.3" cy="670.0" r="1.3"/>
<circle cx="374.6" cy="661.1" r="1.3"/>
<circle cx="352.0" cy="679.6" r="1.3"/>
<circle cx="381.2" cy="679.6" r="1.3"/>
<circle cx="350.9" cy="695.6" r="1.3"/>
<circle cx="375.4" cy="646.8" r="1.3"/>
<circle cx="378.1" cy="668.7" r="1.3"/>
<circle cx="359.0" cy="684.6" r="1.3"/>
<circle cx="345.5" cy="674.2" r="1.3"/>
<circle cx="383.6" cy="650.2" r="1.3"/>
<circle cx="364.0" cy="671.7" r="1.3"/>
<circle cx="347.1" cy="653.9" r="1.3"/>
<circle cx="365.3" cy="695.6" r="1.3"/>
<circle cx="348.6" cy="676.4" r="1.3"/>
<circle cx="361.8" cy="684.4" r="1.3"/>
<circle cx="348.1" cy="665.5" r="1.3"/>
<circle cx="335.4" cy="710.4" r="1.3"/>
<circle cx="367.1" cy="657.7" r="1.3"/>
<circle cx="352.2" cy="687.8" r="1.3"/>
<circle cx="358.3" cy="630.2" r="1.3"/>
<circle cx="360.9" cy="669.9" r="1.3"/>
<circle cx="357.8" cy="636.4" r="1.3"/>
<circle cx="352.1" cy="692.8" r="1.3"/>
<circle cx="363.5" cy="683.1" r="1.3"/>
<circle cx="366.2" cy="663.7" r="1.3"/>
<circle cx="362.1" cy="704.1" r="1.3"/>
<circle cx="356.0" cy="694.7" r="1.3"/>
<circle cx="360.2" cy="647.5" r="1.3"/>
<circle cx="376.1" cy="642.9" r="1.3"/>
<circle cx="372.9" cy="669.2" r="1.3"/>
<circle cx="357.3" cy="656.4" r="1.3"/>
<circle cx="366.7" cy="661.5" r="1.3"/>
<circle cx="366.6" cy="661.3" r="1.3"/>
<circle cx="366.6" cy="687.1" r="1.3"/>
<circle cx="361.0" cy="656.5" r="1.3"/>
<circle cx="365.8" cy="680.7" r="1.3"/>
<circle cx="357.1" cy="649.9" r="1.3"/>
<circle cx="368.2" cy="687.3" r="1.3"/>
<circle cx="368.1" cy="680.7" r="1.3"/>
<circle cx="367.9" cy="693.5" r="1.3"/>
<circle cx="366.8" cy="690.1" r="1.3"/>
<circle cx="352.4" cy="673.4" r="1.3"/>
<circle cx="348.1" cy="678.3" r="1.3"/>
<circle cx="362.3" cy="685.5" r="1.3"/>
<circle cx="356.5" cy="663.4" r="1.3"/>
<circle cx="368.6" cy="633.1" r="1.3"/>
<circle cx="353.8" cy="677.0" r="1.3"/>
<circle cx="355.7" cy="663.9" r="1.3"/>
<circle cx="346.1" cy="668.8" r="1.3"/>
<circle cx="359.3" cy="659.7" r="1.3"/>
<circle cx="356.3" cy="708.6" r="1.3"/>
<circle cx="372.8" cy="637.6" r="1.3"/>
<circle cx="361.2" cy="674.2" r="1.3"/>
<circle cx="375.5" cy="660.2" r="1.3"/>
<circle cx="352.4" cy="657.8" r="1.3"/>
<circle cx="372.1" cy="650.3" r="1.3"/>
<circle cx="366.0" cy="664.1" r="1.3"/>
<circle cx="377.5" cy="630.7" r="1.3"/>
<circle cx="353.5" cy="671.7" r="1.3"/>
<circle cx="342.1" cy="662.4" r="1.3"/>
<circle cx="377.7" cy="640.9" r="1.3"/>
<circle cx="364.1" cy="692.1" r="1.3"/>
<circle cx="354.8" cy="678.5" r="1.3"/>
<circle cx="384.2" cy="668.8" r="1.3"/>
<circle cx="361.9" cy="673.5" r="1.3"/>
<circle cx="352.6" cy="695.1" r="1.3"/>
<circle cx="365.6" cy="697.0" r="1.3"/>
<circle cx="355.9" cy="679.2" r="1.3"/>
<circle cx="352.7" cy="685.1" r="1.3"/>
<circle cx="365.9" cy="661.0" r="1.3"/>
<circle cx="362.0" cy="642.5" r="1.3"/>
<circle cx="359.6" cy="680.9" r="1.3"/>
<circle cx="360.4" cy="677.7" r="1.3"/>
<circle cx="347.1" cy="661.6" r="1.3"/>
<circle cx="369.2" cy="649.6" r="1.3"/>
<circle cx="382.0" cy="686.7" r="1.3"/>
<circle cx="364.6" cy="671.3" r="1.3"/>
<circle cx="375.3" cy="690.6" r="1.3"/>
<circle cx="382.9" cy="673.4" r="1.3"/>
<circle cx="359.2" cy="684.6" r="1.3"/>
<circle cx="354.3" cy="682.2" r="1.3"/>
<circle cx="351.3" cy="687.1" r="1.3"/>
<circle cx="356.5" cy="674.3" r="1.3"/>
<circle cx="369.9" cy="662.3" r="1.3"/>
<circle cx="360.0" cy="647.0" r="1.3"/>
<circle cx="374.2" cy="650.6" r="1.3"/>
<circle cx="354.6" cy="698.7" r="1.3"/>
<circle cx="379.2" cy="636.9" r="1.3"/>
<circle cx="358.1" cy="671.2" r="1.3"/>
<circle cx="360.6" cy="696.3" r="1.3"/>
<circle cx="362.2" cy="691.7" r="1.3"/>
<circle cx="359.0" cy="675.5" r="1.3"/>
<circle cx="360.2" cy="673.7" r="1.3"/>
<circle cx="367.7" cy="663.7" r="1.3"/>
<circle cx="360.2" cy="703.0" r="1.3"/>
<circle cx="366.1" cy="677.2" r="1.3"/>
<circle cx="352.9" cy="643.4" r="1.3"/>
<circle cx="352.9" cy="712.3" r="1.3"/>
<circle cx="346.3" cy="710.2" r="1.3"/>
<circle cx="369.0" cy="668.6" r="1.3"/>
<circle cx="352.3" cy="676.3" r="1.3"/>
<circle cx="365.9" cy="682.0" r="1.3"/>
<circle cx="362.3" cy="671.6" r="1.3"/>
<circle cx="362.5" cy="676.1" r="1.3"/>
<circle cx="358.7" cy="692.2" r="1.3"/>
<circle cx="367.3" cy="671.4" r="1.3"/>
<circle cx="366.5" cy="677.0" r="1.3"/>
<circle cx="378.8" cy="656.0" r="1.3"/>
<circle cx="358.9" cy="664.6" r="1.3"/>
<circle cx="357.3" cy="694.2" r="1.3"/>
<circle cx="348.4" cy="686.5" r="1.3"/>
<circle cx="384.5" cy="677.0" r="1.3"/>
<circle cx="353.8" cy="687.2" r="1.3"/>
<circle cx="370.0" cy="666.5" r="1.3"/>
<circle cx="369.5" cy="656.5" r="1.3"/>
<circle cx="348.3" cy="699.1" r="1.3"/>
<circle cx="354.4" cy="668.9" r="1.3"/>
<circle cx="369.1" cy="671.2" r="1.3"/>
<circle cx="361.1" cy="680.1" r="1.3"/>
<circle cx="347.5" cy="689.6" r="1.3"/>
<circle cx="362.5" cy="685.1" r="1.3"/>
<circle cx="377.3" cy="657.1" r="1.3"/>
<circle cx="364.8" cy="695.1" r="1.3"/>
<circle cx="366.9" cy="662.9" r="1.3"/>
<circle cx="374.7" cy="675.0" r="1.3"/>
<circle cx="384.1" cy="632.1" r="1.3"/>
<circle cx="361.3" cy="684.2" r="1.3"/>
<circle cx="354.4" cy="674.7" r="1.3"/>
<circle cx="360.2" cy="663.2" r="1.3"/>
<circle cx="355.8" cy="665.4" r="1.3"/>
<circle cx="346.3" cy="658.3" r="1.3"/>
<circle cx="359.2" cy="647.1" r="1.3"/>
<circle cx="350.5" cy="685.3" r="1.3"/>
<circle cx="374.1" cy="673.5" r="1.3"/>
<circle cx="359.4" cy="650.3" r="1.3"/>
<circle cx="332.7" cy="688.0" r="1.3"/>
<circle cx="349.4" cy="684.9" r="1.3"/>
<circle cx="364.3" cy="671.3" r="1.3"/>
<circle cx="354.0" cy="663.7" r="1.3"/>
<circle cx="351.4" cy="666.7" r="1.3"/>
<circle cx="354.0" cy="717.2" r="1.3"/>
<circle cx="350.9" cy="695.5" r="1.3"/>
<circle cx="366.3" cy="679.8" r="1.3"/>
<circle cx="354.7" cy="696.9" r="1.3"/>
<circle cx="349.8" cy="661.9" r="1.3"/>
<circle cx="368.6" cy="646.1" r="1.3"/>
<circle cx="346.8" cy="686.6" r="1.3"/>
<circle cx="361.9" cy="647.4" r="1.3"/>
<circle cx="348.7" cy="688.1" r="1.3"/>
<circle cx="354.8" cy="653.0" r="1.3"/>
<circle cx="354.0" cy="663.8" r="1.3"/>
<circle cx="347.1" cy="678.8" r="1.3"/>
<circle cx="352.9" cy="668.7" r="1.3"/>
<circle cx="375.1" cy="670.4" r="1.3"/>
<circle cx="347.2" cy="661.8" r="1.3"/>
<circle cx="380.7" cy="663.8" r="1.3"/>
<circle cx="368.1" cy="656.1" r="1.3"/>
<circle cx="376.1" cy="674.6" r="1.3"/>
<circle cx="353.9" cy="690.4" r="1.3"/>
<circle cx="370.9" cy="661.6" r="1.3"/>
<circle cx="361.4" cy="668.1" r="1.3"/>
<circle cx="381.3" cy="633.1" r="1.3"/>
<circle cx="354.6" cy="679.0" r="1.3"/>
<circle cx="372.7" cy="656.2" r="1.3"/>
<circle cx="352.9" cy="670.1" r="1.3"/>
<circle cx="355.3" cy="672.4" r="1.3"/>
<circle cx="347.2" cy="701.5" r="1.3"/>
<circle cx="344.4" cy="709.9" r="1.3"/>
<circle cx="353.0" cy="684.8" r="1.3"/>
<circle cx="375.9" cy="660.2" r="1.3"/>
<circle cx="344.9" cy="705.6" r="1.3"/>
<circle cx="350.9" cy="701.6" r="1.3"/>
<circle cx="357.9" cy="692.9" r="1.3"/>
<circle cx="359.5" cy="675.7" r="1.3"/>
<circle cx="361.6" cy="663.0" r="1.3"/>
<circle cx="376.5" cy="675.8" r="1.3"/>
<circle cx="356.8" cy="692.5" r="1.3"/>
<circle cx="343.4" cy="665.2" r="1.3"/>
<circle cx="367.2" cy="638.9" r="1.3"/>
<circle cx="354.6" cy="670.0" r="1.3"/>
<circle cx="356.7" cy="688.5" r="1.3"/>
<circle cx="360.6" cy="685.9" r="1.3"/>
<circle cx="376.5" cy="651.4" r="1.3"/>
<circle cx="372.7" cy="697.7" r="1.3"/>
<circle cx="359.8" cy="704.8" r="1.3"/>
<circle cx="355.5" cy="662.9" r="1.3"/>
<circle cx="364.3" cy="699.1" r="1.3"/>
<circle cx="351.1" cy="697.1" r="1.3"/>
<circle cx="340.1" cy="654.5" r="1.3"/>
<circle cx="352.1" cy="691.3" r="1.3"/>
<circle cx="370.0" cy="645.2" r="1.3"/>
<circle cx="352.0" cy="687.6" r="1.3"/>
<circle cx="353.9" cy="700.6" r="1.3"/>
<circle cx="375.2" cy="657.5" r="1.3"/>
<circle cx="375.4" cy="667.0" r="1.3"/>
<circle cx="375.7" cy="649.9" r="1.3"/>
<circle cx="351.1" cy="709.2" r="1.3"/>
<circle cx="365.0" cy="663.3" r="1.3"/>
<circle cx="374.3" cy="661.4" r="1.3"/>
<circle cx="370.8" cy="653.6" r="1.3"/>
<circle cx="355.5" cy="674.3" r="1.3"/>
<circle cx="357.3" cy="695.2" r="1.3"/>
<circle cx="351.5" cy="658.2" r="1.3"/>
<circle cx="353.8" cy="664.0" r="1.3"/>
<circle cx="363.7" cy="656.3" r="1.3"/>
<circle cx="363.6" cy="661.8" r="1.3"/>
<circle cx="350.1" cy="676.3" r="1.3"/>
<circle cx="366.8" cy="680.6" r="1.3"/>
<circle cx="361.8" cy="705.9" r="1.3"/>
<circle cx="373.7" cy="693.5" r="1.3"/>
<circle cx="353.8" cy="683.0" r="1.3"/>
<circle cx="362.1" cy="714.3" r="1.3"/>
<circle cx="335.3" cy="705.5" r="1.3"/>
<circle cx="368.1" cy="654.8" r="1.3"/>
<circle cx="366.0" cy="688.3" r="1.3"/>
<circle cx="369.0" cy="635.5" r="1.3"/>
<circle cx="360.2" cy="706.0" r="1.3"/>
<circle cx="360.1" cy="664.1" r="1.3"/>
<circle cx="359.1" cy="711.7" r="1.3"/>
<circle cx="373.3" cy="660.4" r="1.3"/>
<circle cx="349.4" cy="654.5" r="1.3"/>
<circle cx="358.9" cy="682.9" r="1.3"/>
<circle cx="366.5" cy="693.9" r="1.3"/>
<circle cx="356.0" cy="699.7" r="1.3"/>
<circle cx="349.9" cy="672.2" r="1.3"/>
<circle cx="356.7" cy="663.4" r="1.3"/>
<circle cx="363.4" cy="666.7" r="1.3"/>
<circle cx="377.1" cy="672.9" r="1.3"/>
<circle cx="354.3" cy="700.3" r="1.3"/>
<circle cx="336.6" cy="708.9" r="1.3"/>
<circle cx="371.0" cy="687.3" r="1.3"/>
<circle cx="360.0" cy="705.3" r="1.3"/>
<circle cx="366.5" cy="652.9" r="1.3"/>
<circle cx="358.8" cy="655.0" r="1.3"/>
<circle cx="359.5" cy="653.7" r="1.3"/>
<circle cx="339.0" cy="661.5" r="1.3"/>
<circle cx="365.9" cy="684.3" r="1.3"/>
<circle cx="366.8" cy="668.1" r="1.3"/>
<circle cx="339.0" cy="697.5" r="1.3"/>
<circle cx="372.3" cy="688.3" r="1.3"/>
<circle cx="357.6" cy="671.2" r="1.3"/>
<circle cx="334.5" cy="704.2" r="1.3"/>
<circle cx="360.6" cy="664.9" r="1.3"/>
<circle cx="360.4" cy="669.8" r="1.3"/>
<circle cx="360.5" cy="692.3" r="1.3"/>
<circle cx="347.3" cy="686.8" r="1.3"/>
<circle cx="383.4" cy="669.7" r="1.3"/>
<circle cx="353.8" cy="676.0" r="1.3"/>
<circle cx="370.1" cy="671.3" r="1.3"/>
<circle cx="332.3" cy="715.5" r="1.3"/>
<circle cx="365.9" cy="665.8" r="1.3"/>
<circle cx="364.5" cy="678.5" r="1.3"/>
<circle cx="359.0" cy="681.4" r="1.3"/>
<circle cx="372.6" cy="666.4" r="1.3"/>
<circle cx="352.7" cy="643.4" r="1.3"/>
<circle cx="364.1" cy="667.8" r="1.3"/>
<circle cx="358.5" cy="682.4" r="1.3"/>
<circle cx="362.2" cy="687.6" r="1.3"/>
<circle cx="348.7" cy="715.8" r="1.3"/>
<circle cx="366.2" cy="673.4" r="1.3"/>
<circle cx="365.2" cy="673.6" r="1.3"/>
<circle cx="362.5" cy="685.7" r="1.3"/>
<circle cx="362.6" cy="662.5" r="1.3"/>
<circle cx="355.1" cy="673.9" r="1.3"/>
<circle cx="352.8" cy="670.8" r="1.3"/>
<circle cx="356.9" cy="684.1" r="1.3"/>
<circle cx="363.4" cy="647.8" r="1.3"/>
<circle cx="346.3" cy="676.8" r="1.3"/>
<circle cx="358.3" cy="689.7" r="1.3"/>
<circle cx="376.2" cy="664.9" r="1.3"/>
<circle cx="367.3" cy="653.6" r="1.3"/>
<circle cx="349.4" cy="696.0" r="1.3"/>
<circle cx="372.9" cy="644.6" r="1.3"/>
<circle cx="341.5" cy="698.0" r="1.3"/>
<circle cx="357.4" cy="711.2" r="1.3"/>
<circle cx="371.6" cy="655.4" r="1.3"/>
<circle cx="366.8" cy="680.9" r="1.3"/>
<circle cx="363.5" cy="673.6" r="1.3"/>
<circle cx="348.6" cy="688.0" r="1.3"/>
<circle cx="342.0" cy="671.1" r="1.3"/>
<circle cx="365.3" cy="673.1" r="1.3"/>
<circle cx="362.6" cy="659.5" r="1.3"/>
<circle cx="377.7" cy="679.3" r="1.3"/>
<circle cx="353.3" cy="680.7" r="1.3"/>
<circle cx="347.7" cy="696.7" r="1.3"/>
<circle cx="353.6" cy="682.0" r="1.3"/>
<circle cx="339.7" cy="653.3" r="1.3"/>
<circle cx="355.4" cy="694.3" r="1.3"/>
<circle cx="358.6" cy="671.4" r="1.3"/>
<circle cx="357.3" cy="685.4" r="1.3"/>
<circle cx="378.5" cy="656.0" r="1.3"/>
<circle cx="379.3" cy="678.1" r="1.3"/>
<circle cx="355.6" cy="690.4" r="1.3"/>
<circle cx="353.2" cy="713.1" r="1.3"/>
<circle cx="372.9" cy="645.9" r="1.3"/>
<circle cx="370.7" cy="668.6" r="1.3"/>
<circle cx="345.9" cy="683.3" r="1.3"/>
<circle cx="351.4" cy="707.2" r="1.3"/>
<circle cx="350.8" cy="657.7" r="1.3"/>
<circle cx="323.1" cy="692.7" r="1.3"/>
<circle cx="326.1" cy="676.1" r="1.3"/>
<circle cx="334.0" cy="665.4" r="1.3"/>
<circle cx="332.0" cy="684.9" r="1.3"/>
</g>
<line x1="282.00" y1="619.50" x2="282.00" y2="720.80" stroke="#4a4a4a" stroke-width="1.5" />
<line x1="281.25" y1="720.00" x2="431.50" y2="720.00" stroke="#4a4a4a" stroke-width="1.5" />
<line x1="279.20" y1="622.50" x2="282.00" y2="622.50" stroke="#4a4a4a" stroke-width="1.1" />
<text x="277.40" y="624.80" font-size="6.5" text-anchor="end" fill="#2a2a2a" >10</text>
<line x1="279.20" y1="671.25" x2="282.00" y2="671.25" stroke="#4a4a4a" stroke-width="1.1" />
<text x="277.40" y="673.55" font-size="6.5" text-anchor="end" fill="#2a2a2a" >5</text>
<line x1="279.20" y1="720.00" x2="282.00" y2="720.00" stroke="#4a4a4a" stroke-width="1.1" />
<text x="277.40" y="722.30" font-size="6.5" text-anchor="end" fill="#2a2a2a" >0</text>
<line x1="282.50" y1="720.00" x2="282.50" y2="722.80" stroke="#4a4a4a" stroke-width="1.1" />
<text x="282.50" y="732.70" font-size="6.5" text-anchor="middle" fill="#2a2a2a" >0</text>
<line x1="332.00" y1="720.00" x2="332.00" y2="722.80" stroke="#4a4a4a" stroke-width="1.1" />
<text x="332.00" y="732.70" font-size="6.5" text-anchor="middle" fill="#2a2a2a" >5</text>
<line x1="381.50" y1="720.00" x2="381.50" y2="722.80" stroke="#4a4a4a" stroke-width="1.1" />
<text x="381.50" y="732.70" font-size="6.5" text-anchor="middle" fill="#2a2a2a" >10</text>
<line x1="431.00" y1="720.00" x2="431.00" y2="722.80" stroke="#4a4a4a" stroke-width="1.1" />
<text x="431.00" y="732.70" font-size="6.5" text-anchor="middle" fill="#2a2a2a" >15</text>
<line x1="322.50" y1="700.80" x2="392.70" y2="657.10" stroke="#111" stroke-width="1.3" />
<text x="286" y="627.8" font-size="7.0" fill="#1a1a1a"><tspan font-style="italic">r</tspan> = 0.379</text>
<text x="286" y="638.8" font-size="7.0" fill="#1a1a1a"><tspan font-style="italic">P</tspan> &lt; .0001</text>
<text x="357.5" y="745.8" font-size="8.5" text-anchor="middle" fill="#1a1a1a" stroke="#1a1a1a" stroke-width="0.2" textLength="124" lengthAdjust="spacingAndGlyphs"><tspan font-style="italic">HIF1A</tspan> (mRNA expression (RNA Seq RPKM))</text>
<text x="251.9" y="669" font-size="9" text-anchor="middle" fill="#222" stroke="#222" stroke-width="0.22" transform="rotate(-90 251.9 669)" textLength="65.5" lengthAdjust="spacingAndGlyphs"><tspan font-style="italic">TNF</tspan> (mRNA expression</text>
<text x="262.10" y="669.70" font-size="9" text-anchor="middle" fill="#222" textLength="52.4" lengthAdjust="spacingAndGlyphs" transform="rotate(-90 262.10 669.70)" stroke="#222" stroke-width="0.22">(RNA Seq RPKM))</text></svg>
</body></html>
